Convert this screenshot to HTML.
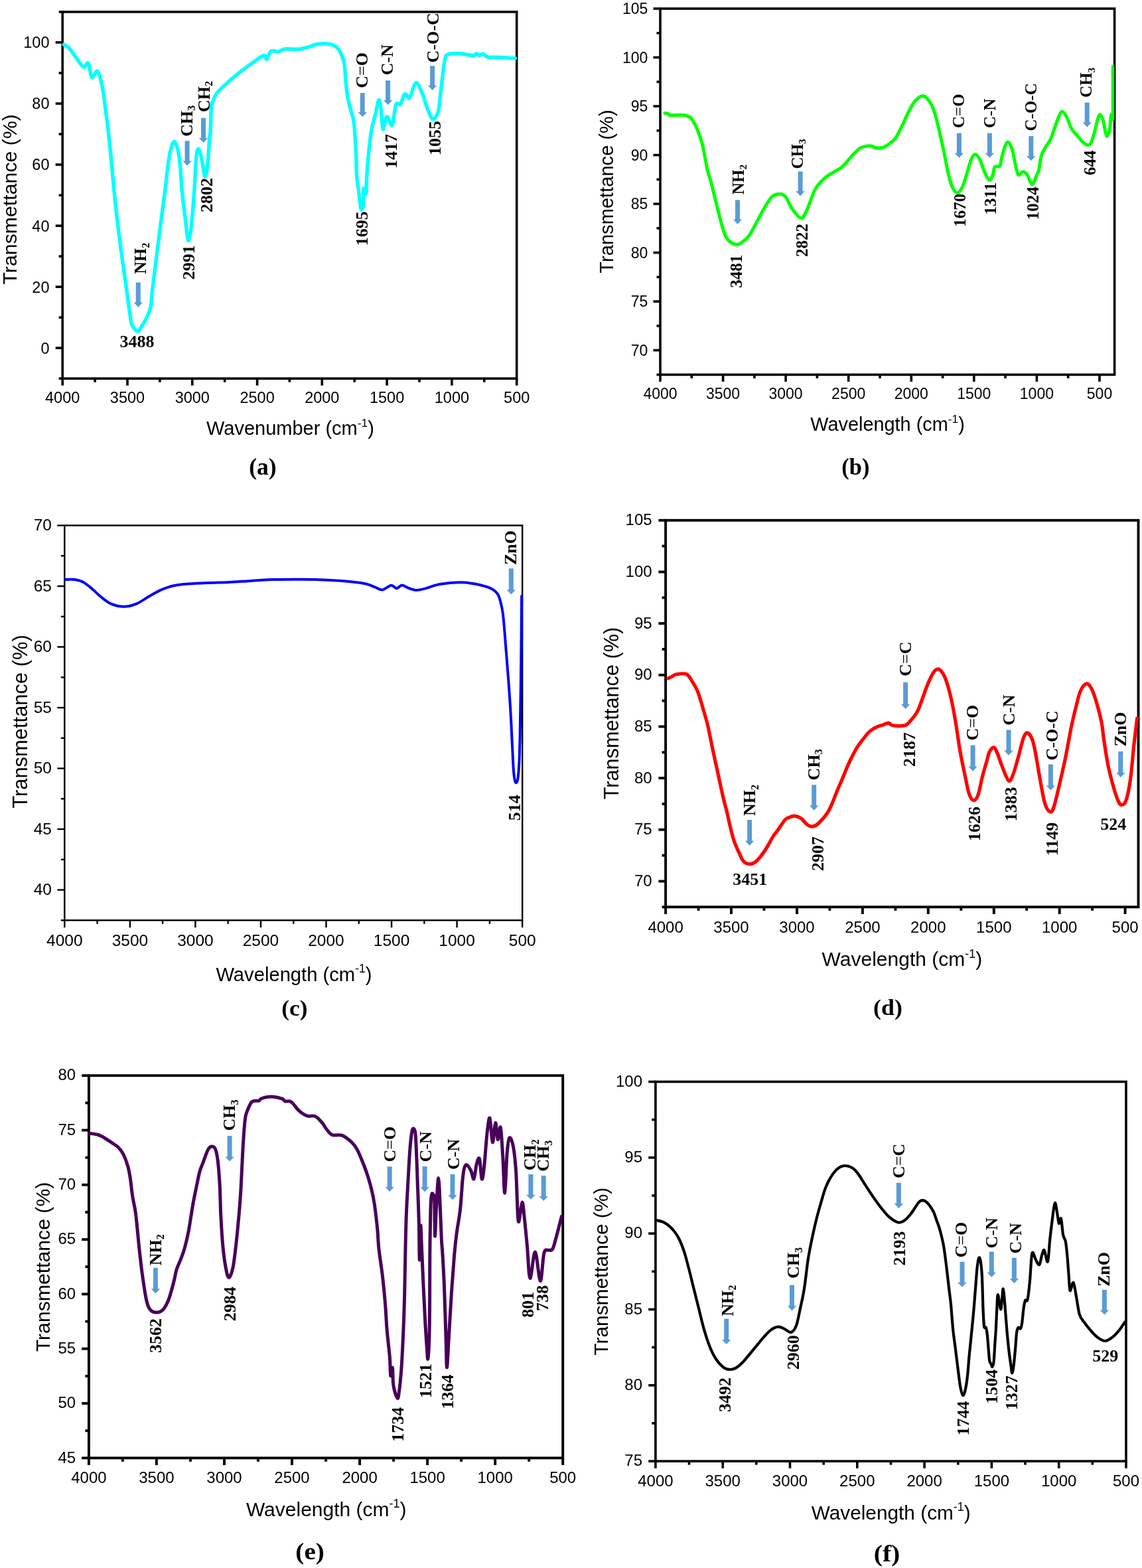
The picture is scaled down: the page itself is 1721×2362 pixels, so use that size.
<!DOCTYPE html>
<html><head><meta charset="utf-8"><title>FTIR spectra</title>
<style>html,body{margin:0;padding:0;background:#fff;}svg{display:block;}</style></head>
<body><svg xmlns="http://www.w3.org/2000/svg" width="1721" height="2362" viewBox="0 0 1721 2362">
<rect width="1721" height="2362" fill="#fff"/>
<rect x="94.2" y="17.9" width="684.5" height="552.3" fill="none" stroke="#000" stroke-width="3.6"/>
<line x1="94.2" y1="570.2" x2="94.2" y2="580.7" stroke="#000" stroke-width="3.6"/>
<line x1="192.0" y1="570.2" x2="192.0" y2="580.7" stroke="#000" stroke-width="3.6"/>
<line x1="289.8" y1="570.2" x2="289.8" y2="580.7" stroke="#000" stroke-width="3.6"/>
<line x1="387.6" y1="570.2" x2="387.6" y2="580.7" stroke="#000" stroke-width="3.6"/>
<line x1="485.3" y1="570.2" x2="485.3" y2="580.7" stroke="#000" stroke-width="3.6"/>
<line x1="583.1" y1="570.2" x2="583.1" y2="580.7" stroke="#000" stroke-width="3.6"/>
<line x1="680.9" y1="570.2" x2="680.9" y2="580.7" stroke="#000" stroke-width="3.6"/>
<line x1="778.7" y1="570.2" x2="778.7" y2="580.7" stroke="#000" stroke-width="3.6"/>
<line x1="143.1" y1="570.2" x2="143.1" y2="575.7" stroke="#000" stroke-width="3.6"/>
<line x1="240.9" y1="570.2" x2="240.9" y2="575.7" stroke="#000" stroke-width="3.6"/>
<line x1="338.7" y1="570.2" x2="338.7" y2="575.7" stroke="#000" stroke-width="3.6"/>
<line x1="436.4" y1="570.2" x2="436.4" y2="575.7" stroke="#000" stroke-width="3.6"/>
<line x1="534.2" y1="570.2" x2="534.2" y2="575.7" stroke="#000" stroke-width="3.6"/>
<line x1="632.0" y1="570.2" x2="632.0" y2="575.7" stroke="#000" stroke-width="3.6"/>
<line x1="729.8" y1="570.2" x2="729.8" y2="575.7" stroke="#000" stroke-width="3.6"/>
<text x="94.2" y="607.0" font-family="'Liberation Sans', Arial, Helvetica, sans-serif" font-size="23.5" text-anchor="middle">4000</text>
<text x="192.0" y="607.0" font-family="'Liberation Sans', Arial, Helvetica, sans-serif" font-size="23.5" text-anchor="middle">3500</text>
<text x="289.8" y="607.0" font-family="'Liberation Sans', Arial, Helvetica, sans-serif" font-size="23.5" text-anchor="middle">3000</text>
<text x="387.6" y="607.0" font-family="'Liberation Sans', Arial, Helvetica, sans-serif" font-size="23.5" text-anchor="middle">2500</text>
<text x="485.3" y="607.0" font-family="'Liberation Sans', Arial, Helvetica, sans-serif" font-size="23.5" text-anchor="middle">2000</text>
<text x="583.1" y="607.0" font-family="'Liberation Sans', Arial, Helvetica, sans-serif" font-size="23.5" text-anchor="middle">1500</text>
<text x="680.9" y="607.0" font-family="'Liberation Sans', Arial, Helvetica, sans-serif" font-size="23.5" text-anchor="middle">1000</text>
<text x="778.7" y="607.0" font-family="'Liberation Sans', Arial, Helvetica, sans-serif" font-size="23.5" text-anchor="middle">500</text>
<line x1="83.7" y1="524.2" x2="94.2" y2="524.2" stroke="#000" stroke-width="3.6"/>
<line x1="83.7" y1="432.1" x2="94.2" y2="432.1" stroke="#000" stroke-width="3.6"/>
<line x1="83.7" y1="340.1" x2="94.2" y2="340.1" stroke="#000" stroke-width="3.6"/>
<line x1="83.7" y1="248.0" x2="94.2" y2="248.0" stroke="#000" stroke-width="3.6"/>
<line x1="83.7" y1="156.0" x2="94.2" y2="156.0" stroke="#000" stroke-width="3.6"/>
<line x1="83.7" y1="63.9" x2="94.2" y2="63.9" stroke="#000" stroke-width="3.6"/>
<line x1="88.7" y1="570.2" x2="94.2" y2="570.2" stroke="#000" stroke-width="3.6"/>
<line x1="88.7" y1="478.2" x2="94.2" y2="478.2" stroke="#000" stroke-width="3.6"/>
<line x1="88.7" y1="386.1" x2="94.2" y2="386.1" stroke="#000" stroke-width="3.6"/>
<line x1="88.7" y1="294.1" x2="94.2" y2="294.1" stroke="#000" stroke-width="3.6"/>
<line x1="88.7" y1="202.0" x2="94.2" y2="202.0" stroke="#000" stroke-width="3.6"/>
<line x1="88.7" y1="110.0" x2="94.2" y2="110.0" stroke="#000" stroke-width="3.6"/>
<line x1="88.7" y1="17.9" x2="94.2" y2="17.9" stroke="#000" stroke-width="3.6"/>
<text x="74.5" y="532.6" font-family="'Liberation Sans', Arial, Helvetica, sans-serif" font-size="23.5" text-anchor="end">0</text>
<text x="74.5" y="440.5" font-family="'Liberation Sans', Arial, Helvetica, sans-serif" font-size="23.5" text-anchor="end">20</text>
<text x="74.5" y="348.5" font-family="'Liberation Sans', Arial, Helvetica, sans-serif" font-size="23.5" text-anchor="end">40</text>
<text x="74.5" y="256.4" font-family="'Liberation Sans', Arial, Helvetica, sans-serif" font-size="23.5" text-anchor="end">60</text>
<text x="74.5" y="164.4" font-family="'Liberation Sans', Arial, Helvetica, sans-serif" font-size="23.5" text-anchor="end">80</text>
<text x="74.5" y="72.3" font-family="'Liberation Sans', Arial, Helvetica, sans-serif" font-size="23.5" text-anchor="end">100</text>
<path d="M96.1 67.2 C97.3 68.0 100.8 69.0 103.6 71.8 C106.4 74.6 109.0 79.1 112.7 83.9 C116.4 88.7 122.2 98.6 125.6 100.5 C129.0 102.4 131.0 92.5 133.1 95.2 C135.2 97.9 136.1 114.4 138.4 116.4 C140.7 118.4 144.2 105.4 146.7 107.3 C149.2 109.2 151.4 117.6 153.6 127.8 C155.8 138.0 157.8 155.5 159.6 168.6 C161.4 181.7 162.7 192.6 164.2 206.5 C165.7 220.4 167.4 238.3 168.7 251.9 C170.0 265.5 170.7 275.2 172.0 288.0 C173.3 300.8 174.6 313.6 176.3 328.4 C178.0 343.2 180.4 361.8 182.4 376.9 C184.4 392.0 186.6 406.1 188.4 419.2 C190.2 432.3 191.9 445.4 193.3 455.5 C194.7 465.6 196.1 474.4 196.9 479.8 C197.8 485.2 196.8 485.0 198.4 488.2 C200.0 491.4 204.1 498.2 206.5 499.0 C208.9 499.8 210.0 496.9 212.6 493.1 C215.2 489.3 219.9 481.4 222.3 476.1 C224.7 470.9 226.0 468.1 227.2 461.6 C228.4 455.2 228.2 449.5 229.6 437.4 C231.0 425.3 233.6 405.1 235.6 389.0 C237.6 372.9 239.9 354.6 241.7 340.5 C243.5 326.4 245.3 313.4 246.5 304.2 C247.7 294.9 247.6 296.2 249.0 285.0 C250.4 273.8 252.8 248.6 255.0 236.7 C257.2 224.8 260.0 213.3 262.5 213.3 C265.0 213.3 268.1 223.9 270.1 236.7 C272.1 249.5 273.0 274.7 274.5 290.0 C276.0 305.3 277.7 316.3 279.2 328.4 C280.7 340.4 282.0 360.3 283.5 362.3 C285.0 364.3 286.8 352.2 288.3 340.5 C289.8 328.8 291.2 309.4 292.5 292.1 C293.8 274.8 294.6 247.9 295.8 236.7 C297.0 225.4 298.1 223.3 299.6 224.6 C301.1 225.9 303.4 237.5 304.9 244.3 C306.4 251.1 307.4 264.2 308.7 265.5 C310.0 266.8 311.4 261.0 312.5 251.9 C313.6 242.8 314.8 219.8 315.5 211.0 C316.2 202.2 316.5 207.2 317.0 198.9 C317.5 190.6 317.8 168.9 318.5 161.1 C319.2 153.3 319.6 155.5 321.0 152.0 C322.4 148.5 323.9 144.2 327.2 139.9 C330.5 135.6 335.8 131.0 340.9 126.3 C345.9 121.6 351.7 116.6 357.5 111.9 C363.3 107.2 369.1 103.0 375.7 98.3 C382.3 93.6 392.5 85.4 396.9 83.9 C401.3 82.4 400.2 90.3 402.1 89.2 C404.0 88.1 405.3 79.0 408.2 77.1 C411.1 75.2 416.2 78.3 419.6 77.8 C423.0 77.3 423.3 74.6 428.6 74.0 C433.9 73.4 445.0 74.6 451.3 74.0 C457.6 73.4 461.9 71.5 466.5 70.3 C471.1 69.0 473.6 67.1 478.6 66.5 C483.6 65.9 491.7 65.5 496.7 66.5 C501.7 67.5 505.5 69.1 508.8 72.5 C512.1 75.9 514.6 82.2 516.4 86.9 C518.2 91.6 518.4 92.2 519.4 100.5 C520.4 108.8 521.2 127.0 522.5 136.9 C523.8 146.8 525.2 152.2 527.0 160.0 C528.8 167.8 531.5 171.7 533.1 183.4 C534.7 195.1 535.8 216.6 536.5 230.0 C537.2 243.4 536.8 254.2 537.5 263.8 C538.2 273.4 539.6 280.4 540.5 287.7 C541.4 295.0 542.2 302.9 542.9 307.5 C543.6 312.1 543.7 315.4 544.5 315.5 C545.3 315.6 547.2 313.6 547.7 308.3 C548.2 303.1 547.1 286.7 547.7 284.0 C548.3 281.3 550.7 294.0 551.5 292.0 C552.3 290.0 552.0 279.2 552.4 271.8 C552.8 264.4 552.9 259.9 554.0 247.9 C555.1 235.9 557.2 212.5 559.2 199.8 C561.2 187.2 563.9 180.2 565.8 172.0 C567.7 163.8 569.4 152.4 570.7 150.8 C572.1 149.2 572.8 154.8 573.9 162.2 C575.0 169.5 576.0 192.2 577.2 194.9 C578.4 197.6 580.1 181.5 581.3 178.5 C582.5 175.5 583.0 175.3 584.6 176.9 C586.2 178.5 589.1 191.6 591.1 188.3 C593.1 185.0 594.8 162.5 596.8 157.3 C598.8 152.1 601.5 159.5 603.4 157.3 C605.3 155.1 606.9 146.8 608.3 144.2 C609.6 141.6 610.0 141.2 611.5 141.8 C613.0 142.4 615.0 149.8 617.2 147.5 C619.4 145.2 622.6 131.5 624.6 127.9 C626.6 124.4 627.3 123.5 629.5 126.2 C631.7 128.9 635.2 137.9 637.7 144.2 C640.2 150.5 641.8 157.9 644.2 163.8 C646.7 169.7 649.7 178.9 652.4 179.4 C655.1 179.9 658.6 174.6 660.6 167.1 C662.6 159.6 663.0 147.2 664.6 134.4 C666.2 121.6 668.6 99.0 670.4 90.3 C672.2 81.6 671.8 83.7 675.3 82.1 C678.8 80.5 685.3 80.2 691.6 80.5 C697.9 80.8 708.5 83.7 712.9 83.7 C717.3 83.7 716.3 80.5 717.8 80.5 C719.3 80.5 720.2 83.6 721.8 83.7 C723.4 83.8 725.3 80.9 727.6 81.3 C729.9 81.7 732.2 85.4 735.7 86.2 C739.2 87.0 742.0 85.9 748.8 86.2 C755.6 86.5 771.9 87.5 776.5 87.8" fill="none" stroke="#00ffff" stroke-width="5.5" stroke-linejoin="round" stroke-linecap="round"/>
<text transform="translate(220.0,412.7) rotate(-90)" font-family="'Liberation Serif', 'Times New Roman', Times, serif" font-weight="bold" font-size="26">NH<tspan font-size="16.1" dy="4.7">2</tspan></text>
<polygon points="204.8,425.4 211.8,425.4 211.8,455.5 215.1,455.5 208.3,462.7 201.6,455.5 204.8,455.5" fill="#5b9bd5"/>
<text x="206.6" y="522.5" font-family="'Liberation Serif', 'Times New Roman', Times, serif" font-weight="bold" font-size="26" text-anchor="middle">3488</text>
<text transform="translate(289.6,205.8) rotate(-90)" font-family="'Liberation Serif', 'Times New Roman', Times, serif" font-weight="bold" font-size="26">CH<tspan font-size="16.1" dy="4.7">3</tspan></text>
<polygon points="278.6,212.2 285.6,212.2 285.6,242.4 288.9,242.4 282.1,249.6 275.4,242.4 278.6,242.4" fill="#5b9bd5"/>
<text transform="translate(292.9,421.2) rotate(-90)" font-family="'Liberation Serif', 'Times New Roman', Times, serif" font-weight="bold" font-size="26">2991</text>
<text transform="translate(315.6,169.0) rotate(-90)" font-family="'Liberation Serif', 'Times New Roman', Times, serif" font-weight="bold" font-size="26">CH<tspan font-size="16.1" dy="4.7">2</tspan></text>
<polygon points="303.0,177.8 310.0,177.8 310.0,207.9 313.2,207.9 306.5,215.1 299.8,207.9 303.0,207.9" fill="#5b9bd5"/>
<text transform="translate(319.5,320.0) rotate(-90)" font-family="'Liberation Serif', 'Times New Roman', Times, serif" font-weight="bold" font-size="26">2802</text>
<text transform="translate(554.3,132.8) rotate(-90)" font-family="'Liberation Serif', 'Times New Roman', Times, serif" font-weight="bold" font-size="26">C<tspan font-weight="normal">=</tspan>O</text>
<polygon points="542.7,140.1 549.7,140.1 549.7,168.9 553.0,168.9 546.2,176.1 539.5,168.9 542.7,168.9" fill="#5b9bd5"/>
<text transform="translate(554.0,370.3) rotate(-90)" font-family="'Liberation Serif', 'Times New Roman', Times, serif" font-weight="bold" font-size="26">1695</text>
<text transform="translate(591.9,113.2) rotate(-90)" font-family="'Liberation Serif', 'Times New Roman', Times, serif" font-weight="bold" font-size="26">C<tspan font-weight="normal">-</tspan>N</text>
<polygon points="581.1,121.3 588.1,121.3 588.1,150.9 591.4,150.9 584.6,158.1 577.9,150.9 581.1,150.9" fill="#5b9bd5"/>
<text transform="translate(597.6,253.7) rotate(-90)" font-family="'Liberation Serif', 'Times New Roman', Times, serif" font-weight="bold" font-size="26">1417</text>
<text transform="translate(660.6,94.4) rotate(-90)" font-family="'Liberation Serif', 'Times New Roman', Times, serif" font-weight="bold" font-size="26">C<tspan font-weight="normal">-</tspan>O<tspan font-weight="normal">-</tspan>C</text>
<polygon points="648.1,99.3 655.1,99.3 655.1,128.8 658.4,128.8 651.6,136.0 644.9,128.8 648.1,128.8" fill="#5b9bd5"/>
<text transform="translate(663.8,234.1) rotate(-90)" font-family="'Liberation Serif', 'Times New Roman', Times, serif" font-weight="bold" font-size="26">1055</text>
<text transform="translate(25.3,300.3) rotate(-90)" font-family="'Liberation Sans', Arial, Helvetica, sans-serif" font-size="30.3" text-anchor="middle">Transmettance (%)</text>
<text x="311.0" y="654.9" font-family="'Liberation Sans', Arial, Helvetica, sans-serif" font-size="29">Wavenumber (cm<tspan font-size="17.4" dy="-12.2">-1</tspan><tspan dy="12.2">)</tspan></text>
<text transform="translate(395.9,715.2) scale(0.987,1)" font-family="'Liberation Serif', 'Times New Roman', Times, serif" font-weight="bold" font-size="36.1" text-anchor="middle">(a)</text>
<rect x="995.0" y="13.0" width="684.6" height="551.4" fill="none" stroke="#000" stroke-width="3.6"/>
<line x1="995.0" y1="564.4" x2="995.0" y2="574.9" stroke="#000" stroke-width="3.6"/>
<line x1="1089.6" y1="564.4" x2="1089.6" y2="574.9" stroke="#000" stroke-width="3.6"/>
<line x1="1184.1" y1="564.4" x2="1184.1" y2="574.9" stroke="#000" stroke-width="3.6"/>
<line x1="1278.7" y1="564.4" x2="1278.7" y2="574.9" stroke="#000" stroke-width="3.6"/>
<line x1="1373.3" y1="564.4" x2="1373.3" y2="574.9" stroke="#000" stroke-width="3.6"/>
<line x1="1467.8" y1="564.4" x2="1467.8" y2="574.9" stroke="#000" stroke-width="3.6"/>
<line x1="1562.4" y1="564.4" x2="1562.4" y2="574.9" stroke="#000" stroke-width="3.6"/>
<line x1="1657.0" y1="564.4" x2="1657.0" y2="574.9" stroke="#000" stroke-width="3.6"/>
<line x1="1042.3" y1="564.4" x2="1042.3" y2="569.9" stroke="#000" stroke-width="3.6"/>
<line x1="1136.9" y1="564.4" x2="1136.9" y2="569.9" stroke="#000" stroke-width="3.6"/>
<line x1="1231.4" y1="564.4" x2="1231.4" y2="569.9" stroke="#000" stroke-width="3.6"/>
<line x1="1326.0" y1="564.4" x2="1326.0" y2="569.9" stroke="#000" stroke-width="3.6"/>
<line x1="1420.6" y1="564.4" x2="1420.6" y2="569.9" stroke="#000" stroke-width="3.6"/>
<line x1="1515.1" y1="564.4" x2="1515.1" y2="569.9" stroke="#000" stroke-width="3.6"/>
<line x1="1609.7" y1="564.4" x2="1609.7" y2="569.9" stroke="#000" stroke-width="3.6"/>
<text x="995.0" y="600.7" font-family="'Liberation Sans', Arial, Helvetica, sans-serif" font-size="23" text-anchor="middle">4000</text>
<text x="1089.6" y="600.7" font-family="'Liberation Sans', Arial, Helvetica, sans-serif" font-size="23" text-anchor="middle">3500</text>
<text x="1184.1" y="600.7" font-family="'Liberation Sans', Arial, Helvetica, sans-serif" font-size="23" text-anchor="middle">3000</text>
<text x="1278.7" y="600.7" font-family="'Liberation Sans', Arial, Helvetica, sans-serif" font-size="23" text-anchor="middle">2500</text>
<text x="1373.3" y="600.7" font-family="'Liberation Sans', Arial, Helvetica, sans-serif" font-size="23" text-anchor="middle">2000</text>
<text x="1467.8" y="600.7" font-family="'Liberation Sans', Arial, Helvetica, sans-serif" font-size="23" text-anchor="middle">1500</text>
<text x="1562.4" y="600.7" font-family="'Liberation Sans', Arial, Helvetica, sans-serif" font-size="23" text-anchor="middle">1000</text>
<text x="1657.0" y="600.7" font-family="'Liberation Sans', Arial, Helvetica, sans-serif" font-size="23" text-anchor="middle">500</text>
<line x1="984.5" y1="527.6" x2="995.0" y2="527.6" stroke="#000" stroke-width="3.6"/>
<line x1="984.5" y1="454.1" x2="995.0" y2="454.1" stroke="#000" stroke-width="3.6"/>
<line x1="984.5" y1="380.6" x2="995.0" y2="380.6" stroke="#000" stroke-width="3.6"/>
<line x1="984.5" y1="307.1" x2="995.0" y2="307.1" stroke="#000" stroke-width="3.6"/>
<line x1="984.5" y1="233.6" x2="995.0" y2="233.6" stroke="#000" stroke-width="3.6"/>
<line x1="984.5" y1="160.0" x2="995.0" y2="160.0" stroke="#000" stroke-width="3.6"/>
<line x1="984.5" y1="86.5" x2="995.0" y2="86.5" stroke="#000" stroke-width="3.6"/>
<line x1="984.5" y1="13.0" x2="995.0" y2="13.0" stroke="#000" stroke-width="3.6"/>
<line x1="989.5" y1="564.4" x2="995.0" y2="564.4" stroke="#000" stroke-width="3.6"/>
<line x1="989.5" y1="490.9" x2="995.0" y2="490.9" stroke="#000" stroke-width="3.6"/>
<line x1="989.5" y1="417.4" x2="995.0" y2="417.4" stroke="#000" stroke-width="3.6"/>
<line x1="989.5" y1="343.8" x2="995.0" y2="343.8" stroke="#000" stroke-width="3.6"/>
<line x1="989.5" y1="270.3" x2="995.0" y2="270.3" stroke="#000" stroke-width="3.6"/>
<line x1="989.5" y1="196.8" x2="995.0" y2="196.8" stroke="#000" stroke-width="3.6"/>
<line x1="989.5" y1="123.3" x2="995.0" y2="123.3" stroke="#000" stroke-width="3.6"/>
<line x1="989.5" y1="49.8" x2="995.0" y2="49.8" stroke="#000" stroke-width="3.6"/>
<text x="976.3" y="535.9" font-family="'Liberation Sans', Arial, Helvetica, sans-serif" font-size="23" text-anchor="end">70</text>
<text x="976.3" y="462.4" font-family="'Liberation Sans', Arial, Helvetica, sans-serif" font-size="23" text-anchor="end">75</text>
<text x="976.3" y="388.8" font-family="'Liberation Sans', Arial, Helvetica, sans-serif" font-size="23" text-anchor="end">80</text>
<text x="976.3" y="315.3" font-family="'Liberation Sans', Arial, Helvetica, sans-serif" font-size="23" text-anchor="end">85</text>
<text x="976.3" y="241.8" font-family="'Liberation Sans', Arial, Helvetica, sans-serif" font-size="23" text-anchor="end">90</text>
<text x="976.3" y="168.3" font-family="'Liberation Sans', Arial, Helvetica, sans-serif" font-size="23" text-anchor="end">95</text>
<text x="976.3" y="94.8" font-family="'Liberation Sans', Arial, Helvetica, sans-serif" font-size="23" text-anchor="end">100</text>
<text x="976.3" y="21.2" font-family="'Liberation Sans', Arial, Helvetica, sans-serif" font-size="23" text-anchor="end">105</text>
<path d="M1001.8 170.4 C1002.7 170.5 1005.7 170.7 1007.1 171.2 C1008.5 171.7 1006.1 173.1 1010.1 173.5 C1014.1 173.9 1026.0 172.6 1031.3 173.5 C1036.6 174.4 1038.6 175.2 1041.9 178.8 C1045.2 182.5 1048.2 188.9 1051.0 195.4 C1053.8 201.9 1056.1 208.0 1058.6 218.1 C1061.1 228.2 1064.1 247.1 1066.1 255.9 C1068.1 264.7 1068.7 263.5 1070.7 271.1 C1072.7 278.7 1075.7 291.2 1078.2 301.3 C1080.7 311.4 1083.3 322.5 1085.8 331.6 C1088.3 340.7 1090.7 350.2 1093.4 355.8 C1096.1 361.4 1099.2 363.4 1102.0 365.5 C1104.8 367.6 1108.0 368.2 1110.3 368.4 C1112.6 368.6 1113.0 368.6 1116.0 366.5 C1119.0 364.4 1124.2 361.1 1128.2 355.8 C1132.2 350.5 1136.5 341.4 1140.3 334.6 C1144.1 327.8 1147.1 321.3 1150.9 315.0 C1154.7 308.7 1159.0 300.6 1163.0 296.8 C1167.0 293.0 1171.6 292.3 1175.1 292.3 C1178.6 292.3 1181.2 293.3 1184.2 296.8 C1187.2 300.3 1189.4 308.1 1193.2 313.4 C1197.0 318.7 1203.1 328.1 1206.9 328.6 C1210.7 329.1 1212.4 323.6 1215.9 316.5 C1219.4 309.4 1224.0 293.8 1228.0 286.2 C1232.0 278.6 1236.0 274.9 1240.0 270.9 C1244.0 266.8 1247.6 264.9 1252.1 261.9 C1256.6 258.9 1263.2 255.8 1267.2 252.8 C1271.2 249.8 1273.0 247.2 1276.3 243.7 C1279.6 240.2 1283.6 235.0 1286.9 231.6 C1290.2 228.2 1293.0 225.2 1296.0 223.3 C1299.0 221.4 1302.1 220.7 1305.1 220.2 C1308.1 219.7 1311.9 219.8 1314.2 220.2 C1316.5 220.6 1316.2 222.1 1318.7 222.5 C1321.2 222.9 1326.0 223.2 1329.3 222.5 C1332.6 221.8 1335.1 220.3 1338.4 218.0 C1341.7 215.7 1346.2 212.2 1349.0 208.9 C1351.8 205.6 1353.0 202.1 1355.0 198.3 C1357.0 194.5 1358.8 191.0 1361.1 186.2 C1363.4 181.4 1366.1 174.6 1368.6 169.6 C1371.1 164.6 1373.7 159.6 1376.2 155.9 C1378.7 152.2 1381.4 149.5 1383.8 147.6 C1386.2 145.7 1388.3 144.5 1390.6 144.6 C1392.9 144.7 1395.0 145.8 1397.4 148.4 C1399.8 151.1 1402.7 155.5 1405.0 160.5 C1407.3 165.5 1409.0 171.3 1411.0 178.6 C1413.0 185.9 1415.1 195.6 1417.1 204.4 C1419.1 213.2 1421.1 222.0 1423.1 231.6 C1425.1 241.2 1427.2 253.5 1429.2 261.9 C1431.2 270.3 1432.9 277.2 1435.2 282.0 C1437.5 286.8 1440.6 290.8 1443.2 290.5 C1445.8 290.2 1448.6 285.3 1451.1 280.0 C1453.5 274.7 1455.8 265.6 1457.9 258.8 C1460.1 252.0 1462.0 243.6 1464.0 239.2 C1466.0 234.8 1467.9 232.2 1470.0 232.4 C1472.1 232.7 1474.5 236.3 1476.8 240.7 C1479.1 245.1 1481.2 253.7 1483.6 258.8 C1486.0 263.9 1489.1 271.0 1491.3 271.5 C1493.5 272.0 1495.4 265.3 1496.7 261.9 C1498.0 258.5 1497.3 253.3 1499.0 251.3 C1500.7 249.3 1504.7 252.6 1506.6 249.8 C1508.5 247.0 1508.9 239.7 1510.3 234.6 C1511.7 229.5 1513.4 222.9 1514.9 219.5 C1516.4 216.1 1517.6 213.2 1519.4 214.2 C1521.2 215.2 1523.7 220.1 1525.5 225.5 C1527.3 230.9 1528.5 240.4 1530.0 246.7 C1531.5 253.0 1532.7 261.4 1534.6 263.4 C1536.5 265.4 1539.1 258.8 1541.4 258.8 C1543.7 258.8 1546.3 260.9 1548.2 263.4 C1550.1 265.9 1551.3 271.7 1552.7 274.0 C1554.1 276.3 1555.0 278.7 1556.5 277.2 C1558.0 275.7 1560.3 268.5 1561.8 264.9 C1563.3 261.3 1564.3 260.9 1565.6 255.8 C1566.9 250.8 1567.5 240.7 1569.4 234.6 C1571.3 228.5 1574.6 223.5 1576.9 219.5 C1579.2 215.5 1581.0 214.7 1583.0 210.4 C1585.0 206.1 1587.0 199.4 1589.0 193.8 C1591.0 188.2 1593.2 181.4 1595.1 177.1 C1597.0 172.8 1598.4 168.2 1600.4 168.0 C1602.4 167.8 1604.8 171.3 1607.2 175.6 C1609.6 179.9 1612.3 189.3 1614.8 193.8 C1617.3 198.3 1619.8 199.8 1622.3 202.8 C1624.8 205.8 1627.4 209.4 1629.9 211.9 C1632.4 214.4 1635.2 217.2 1637.5 218.0 C1639.8 218.8 1641.6 219.3 1643.5 216.5 C1645.4 213.7 1647.0 207.4 1648.8 201.3 C1650.6 195.2 1652.6 184.9 1654.1 180.1 C1655.6 175.3 1656.5 172.3 1657.9 172.6 C1659.3 172.9 1661.0 177.2 1662.4 181.7 C1663.8 186.2 1665.2 195.9 1666.2 199.8 C1667.2 203.7 1667.5 205.8 1668.5 205.1 C1669.5 204.3 1671.3 200.7 1672.3 195.3 C1673.3 190.0 1673.8 175.9 1674.5 173.0 C1675.2 170.1 1676.2 177.2 1676.5 178.0" fill="none" stroke="#00ff00" stroke-width="5" stroke-linejoin="round" stroke-linecap="round"/>
<path d="M1677 180 L1677 100" stroke="#00ff00" stroke-width="4.5" stroke-linecap="round"/>
<text transform="translate(1120.6,293.0) rotate(-90)" font-family="'Liberation Serif', 'Times New Roman', Times, serif" font-weight="bold" font-size="25">NH<tspan font-size="15.5" dy="4.5">2</tspan></text>
<polygon points="1108.0,301.3 1115.0,301.3 1115.0,330.5 1118.2,330.5 1111.5,337.7 1104.8,330.5 1108.0,330.5" fill="#5b9bd5"/>
<text transform="translate(1117.5,433.8) rotate(-90)" font-family="'Liberation Serif', 'Times New Roman', Times, serif" font-weight="bold" font-size="25">3481</text>
<text transform="translate(1209.9,254.4) rotate(-90)" font-family="'Liberation Serif', 'Times New Roman', Times, serif" font-weight="bold" font-size="25">CH<tspan font-size="15.5" dy="4.5">3</tspan></text>
<polygon points="1202.6,258.2 1209.6,258.2 1209.6,288.1 1212.8,288.1 1206.1,295.3 1199.3,288.1 1202.6,288.1" fill="#5b9bd5"/>
<text transform="translate(1217.4,387.1) rotate(-90)" font-family="'Liberation Serif', 'Times New Roman', Times, serif" font-weight="bold" font-size="25">2822</text>
<text transform="translate(1453.4,193.0) rotate(-90)" font-family="'Liberation Serif', 'Times New Roman', Times, serif" font-weight="bold" font-size="25">C<tspan font-weight="normal">=</tspan>O</text>
<polygon points="1441.9,200.6 1448.9,200.6 1448.9,230.5 1452.2,230.5 1445.4,237.7 1438.7,230.5 1441.9,230.5" fill="#5b9bd5"/>
<text transform="translate(1454.9,341.8) rotate(-90)" font-family="'Liberation Serif', 'Times New Roman', Times, serif" font-weight="bold" font-size="25">1670</text>
<text transform="translate(1499.8,193.0) rotate(-90)" font-family="'Liberation Serif', 'Times New Roman', Times, serif" font-weight="bold" font-size="25">C<tspan font-weight="normal">-</tspan>N</text>
<polygon points="1487.9,200.6 1494.9,200.6 1494.9,230.5 1498.2,230.5 1491.4,237.7 1484.7,230.5 1487.9,230.5" fill="#5b9bd5"/>
<text transform="translate(1500.9,323.4) rotate(-90)" font-family="'Liberation Serif', 'Times New Roman', Times, serif" font-weight="bold" font-size="25">1311</text>
<text transform="translate(1561.8,197.5) rotate(-90)" font-family="'Liberation Serif', 'Times New Roman', Times, serif" font-weight="bold" font-size="25">C<tspan font-weight="normal">-</tspan>O<tspan font-weight="normal">-</tspan>C</text>
<polygon points="1550.3,205.1 1557.3,205.1 1557.3,235.0 1560.5,235.0 1553.8,242.2 1547.0,235.0 1550.3,235.0" fill="#5b9bd5"/>
<text transform="translate(1565.3,331.2) rotate(-90)" font-family="'Liberation Serif', 'Times New Roman', Times, serif" font-weight="bold" font-size="25">1024</text>
<text transform="translate(1645.0,146.9) rotate(-90)" font-family="'Liberation Serif', 'Times New Roman', Times, serif" font-weight="bold" font-size="25">CH<tspan font-size="15.5" dy="4.5">3</tspan></text>
<polygon points="1634.7,154.4 1641.7,154.4 1641.7,184.3 1645.0,184.3 1638.2,191.5 1631.5,184.3 1634.7,184.3" fill="#5b9bd5"/>
<text transform="translate(1651.1,264.1) rotate(-90)" font-family="'Liberation Serif', 'Times New Roman', Times, serif" font-weight="bold" font-size="25">644</text>
<text transform="translate(924.3,288.5) rotate(-90)" font-family="'Liberation Sans', Arial, Helvetica, sans-serif" font-size="29.1" text-anchor="middle">Transmettance (%)</text>
<text x="1221.2" y="649.2" font-family="'Liberation Sans', Arial, Helvetica, sans-serif" font-size="28.9">Wavelength (cm<tspan font-size="17.3" dy="-12.1">-1</tspan><tspan dy="12.1">)</tspan></text>
<text transform="translate(1289.4,714.7) scale(0.970,1)" font-family="'Liberation Serif', 'Times New Roman', Times, serif" font-weight="bold" font-size="35.5" text-anchor="middle">(b)</text>
<rect x="97.3" y="791.5" width="689.9" height="594.8" fill="none" stroke="#000" stroke-width="2.4"/>
<line x1="97.3" y1="1386.3" x2="97.3" y2="1397.3" stroke="#000" stroke-width="2.4"/>
<line x1="195.9" y1="1386.3" x2="195.9" y2="1397.3" stroke="#000" stroke-width="2.4"/>
<line x1="294.4" y1="1386.3" x2="294.4" y2="1397.3" stroke="#000" stroke-width="2.4"/>
<line x1="393.0" y1="1386.3" x2="393.0" y2="1397.3" stroke="#000" stroke-width="2.4"/>
<line x1="491.5" y1="1386.3" x2="491.5" y2="1397.3" stroke="#000" stroke-width="2.4"/>
<line x1="590.1" y1="1386.3" x2="590.1" y2="1397.3" stroke="#000" stroke-width="2.4"/>
<line x1="688.6" y1="1386.3" x2="688.6" y2="1397.3" stroke="#000" stroke-width="2.4"/>
<line x1="787.2" y1="1386.3" x2="787.2" y2="1397.3" stroke="#000" stroke-width="2.4"/>
<line x1="146.6" y1="1386.3" x2="146.6" y2="1391.8" stroke="#000" stroke-width="2.4"/>
<line x1="245.1" y1="1386.3" x2="245.1" y2="1391.8" stroke="#000" stroke-width="2.4"/>
<line x1="343.7" y1="1386.3" x2="343.7" y2="1391.8" stroke="#000" stroke-width="2.4"/>
<line x1="442.3" y1="1386.3" x2="442.3" y2="1391.8" stroke="#000" stroke-width="2.4"/>
<line x1="540.8" y1="1386.3" x2="540.8" y2="1391.8" stroke="#000" stroke-width="2.4"/>
<line x1="639.4" y1="1386.3" x2="639.4" y2="1391.8" stroke="#000" stroke-width="2.4"/>
<line x1="737.9" y1="1386.3" x2="737.9" y2="1391.8" stroke="#000" stroke-width="2.4"/>
<text x="97.3" y="1425.3" font-family="'Liberation Sans', Arial, Helvetica, sans-serif" font-size="24.5" text-anchor="middle">4000</text>
<text x="195.9" y="1425.3" font-family="'Liberation Sans', Arial, Helvetica, sans-serif" font-size="24.5" text-anchor="middle">3500</text>
<text x="294.4" y="1425.3" font-family="'Liberation Sans', Arial, Helvetica, sans-serif" font-size="24.5" text-anchor="middle">3000</text>
<text x="393.0" y="1425.3" font-family="'Liberation Sans', Arial, Helvetica, sans-serif" font-size="24.5" text-anchor="middle">2500</text>
<text x="491.5" y="1425.3" font-family="'Liberation Sans', Arial, Helvetica, sans-serif" font-size="24.5" text-anchor="middle">2000</text>
<text x="590.1" y="1425.3" font-family="'Liberation Sans', Arial, Helvetica, sans-serif" font-size="24.5" text-anchor="middle">1500</text>
<text x="688.6" y="1425.3" font-family="'Liberation Sans', Arial, Helvetica, sans-serif" font-size="24.5" text-anchor="middle">1000</text>
<text x="787.2" y="1425.3" font-family="'Liberation Sans', Arial, Helvetica, sans-serif" font-size="24.5" text-anchor="middle">500</text>
<line x1="86.3" y1="1340.5" x2="97.3" y2="1340.5" stroke="#000" stroke-width="2.4"/>
<line x1="86.3" y1="1249.0" x2="97.3" y2="1249.0" stroke="#000" stroke-width="2.4"/>
<line x1="86.3" y1="1157.5" x2="97.3" y2="1157.5" stroke="#000" stroke-width="2.4"/>
<line x1="86.3" y1="1066.0" x2="97.3" y2="1066.0" stroke="#000" stroke-width="2.4"/>
<line x1="86.3" y1="974.5" x2="97.3" y2="974.5" stroke="#000" stroke-width="2.4"/>
<line x1="86.3" y1="883.0" x2="97.3" y2="883.0" stroke="#000" stroke-width="2.4"/>
<line x1="86.3" y1="791.5" x2="97.3" y2="791.5" stroke="#000" stroke-width="2.4"/>
<line x1="91.8" y1="1386.3" x2="97.3" y2="1386.3" stroke="#000" stroke-width="2.4"/>
<line x1="91.8" y1="1294.8" x2="97.3" y2="1294.8" stroke="#000" stroke-width="2.4"/>
<line x1="91.8" y1="1203.3" x2="97.3" y2="1203.3" stroke="#000" stroke-width="2.4"/>
<line x1="91.8" y1="1111.8" x2="97.3" y2="1111.8" stroke="#000" stroke-width="2.4"/>
<line x1="91.8" y1="1020.3" x2="97.3" y2="1020.3" stroke="#000" stroke-width="2.4"/>
<line x1="91.8" y1="928.8" x2="97.3" y2="928.8" stroke="#000" stroke-width="2.4"/>
<line x1="91.8" y1="837.3" x2="97.3" y2="837.3" stroke="#000" stroke-width="2.4"/>
<text x="78.0" y="1348.1" font-family="'Liberation Sans', Arial, Helvetica, sans-serif" font-size="24.5" text-anchor="end">40</text>
<text x="78.0" y="1256.6" font-family="'Liberation Sans', Arial, Helvetica, sans-serif" font-size="24.5" text-anchor="end">45</text>
<text x="78.0" y="1165.1" font-family="'Liberation Sans', Arial, Helvetica, sans-serif" font-size="24.5" text-anchor="end">50</text>
<text x="78.0" y="1073.6" font-family="'Liberation Sans', Arial, Helvetica, sans-serif" font-size="24.5" text-anchor="end">55</text>
<text x="78.0" y="982.1" font-family="'Liberation Sans', Arial, Helvetica, sans-serif" font-size="24.5" text-anchor="end">60</text>
<text x="78.0" y="890.6" font-family="'Liberation Sans', Arial, Helvetica, sans-serif" font-size="24.5" text-anchor="end">65</text>
<text x="78.0" y="799.1" font-family="'Liberation Sans', Arial, Helvetica, sans-serif" font-size="24.5" text-anchor="end">70</text>
<path d="M98.3 873.1 C100.7 873.1 107.9 872.5 112.4 873.1 C116.9 873.8 121.1 874.7 125.5 877.0 C129.9 879.3 134.2 883.3 138.6 886.9 C143.0 890.5 147.0 895.1 151.7 898.8 C156.4 902.5 161.1 906.8 166.9 909.3 C172.7 911.8 180.0 913.7 186.5 913.7 C193.0 913.7 199.6 912.0 206.1 909.3 C212.6 906.6 219.5 901.2 225.7 897.7 C231.9 894.2 237.4 890.9 243.2 888.4 C249.0 885.9 254.4 884.0 260.6 882.5 C266.8 881.0 271.5 880.4 280.2 879.7 C288.9 879.0 302.0 878.6 312.9 878.1 C323.8 877.6 334.7 877.5 345.6 877.0 C356.5 876.5 367.4 875.5 378.3 874.9 C389.2 874.2 398.2 873.5 411.0 873.1 C423.8 872.7 441.2 872.6 455.0 872.7 C468.8 872.8 481.7 873.2 493.6 873.8 C505.5 874.3 516.5 875.0 526.3 876.0 C536.1 877.0 545.9 878.2 552.4 879.7 C558.9 881.2 561.5 883.2 565.5 884.7 C569.5 886.2 572.4 888.9 576.4 888.4 C580.4 887.9 586.0 882.2 589.5 881.8 C593.0 881.4 595.0 886.3 597.7 886.2 C600.4 886.1 602.8 881.5 605.8 881.4 C608.8 881.3 612.1 884.5 615.6 885.8 C619.1 887.1 622.5 888.8 626.5 889.0 C630.5 889.2 634.5 888.2 639.6 886.9 C644.7 885.6 650.5 882.9 657.0 881.4 C663.5 879.9 671.5 878.8 678.8 878.1 C686.1 877.5 693.6 877.1 700.6 877.5 C707.6 877.9 715.4 879.5 720.5 880.5 C725.6 881.5 727.8 882.2 731.0 883.2 C734.2 884.2 737.3 885.2 739.9 886.5 C742.5 887.8 744.7 889.2 746.5 890.9 C748.3 892.5 749.6 893.8 750.9 896.4 C752.2 899.0 753.1 902.1 754.2 906.3 C755.3 910.5 756.6 915.7 757.5 921.8 C758.4 927.9 759.0 934.7 759.7 942.8 C760.4 950.9 761.2 961.1 761.9 970.3 C762.6 979.5 763.4 988.7 764.1 997.9 C764.8 1007.1 765.5 1015.4 766.3 1025.5 C767.0 1035.6 767.9 1047.6 768.6 1058.6 C769.3 1069.6 769.9 1079.8 770.5 1091.7 C771.1 1103.6 771.7 1118.6 772.3 1130.0 C772.9 1141.4 773.3 1152.6 773.9 1160.0 C774.5 1167.4 775.0 1171.3 775.6 1174.5 C776.2 1177.7 777.0 1179.3 777.8 1179.3 C778.5 1179.3 779.5 1177.7 780.1 1174.5 C780.8 1171.3 781.2 1165.8 781.7 1160.0 C782.2 1154.2 782.5 1148.3 782.8 1140.0 C783.1 1131.7 783.3 1123.3 783.6 1110.0 C783.9 1096.7 784.1 1078.3 784.4 1060.0 C784.7 1041.7 785.0 1018.6 785.2 1000.0 C785.4 981.4 785.6 965.3 785.7 948.3 C785.9 931.3 786.0 906.4 786.1 898.0" fill="none" stroke="#0000ff" stroke-width="4.0" stroke-linejoin="round" stroke-linecap="round"/>
<text transform="translate(778.3,851.1) rotate(-90)" font-family="'Liberation Serif', 'Times New Roman', Times, serif" font-weight="bold" font-size="26">ZnO</text>
<polygon points="766.8,856.3 773.8,856.3 773.8,888.4 777.0,888.4 770.3,895.6 763.5,888.4 766.8,888.4" fill="#5b9bd5"/>
<text transform="translate(784.4,1236.3) rotate(-90)" font-family="'Liberation Serif', 'Times New Roman', Times, serif" font-weight="bold" font-size="26">514</text>
<text transform="translate(41.0,1087.0) rotate(-90)" font-family="'Liberation Sans', Arial, Helvetica, sans-serif" font-size="30.9" text-anchor="middle">Transmettance (%)</text>
<text x="325.4" y="1477.7" font-family="'Liberation Sans', Arial, Helvetica, sans-serif" font-size="29.2">Wavelength (cm<tspan font-size="17.5" dy="-12.3">-1</tspan><tspan dy="12.3">)</tspan></text>
<text transform="translate(443.9,1529.6) scale(1.040,1)" font-family="'Liberation Serif', 'Times New Roman', Times, serif" font-weight="bold" font-size="34.0" text-anchor="middle">(c)</text>
<rect x="1003.1" y="783.8" width="712.4" height="582.5" fill="none" stroke="#000" stroke-width="3.9"/>
<line x1="1003.1" y1="1366.3" x2="1003.1" y2="1377.0" stroke="#000" stroke-width="3.9"/>
<line x1="1102.0" y1="1366.3" x2="1102.0" y2="1377.0" stroke="#000" stroke-width="3.9"/>
<line x1="1201.0" y1="1366.3" x2="1201.0" y2="1377.0" stroke="#000" stroke-width="3.9"/>
<line x1="1299.9" y1="1366.3" x2="1299.9" y2="1377.0" stroke="#000" stroke-width="3.9"/>
<line x1="1398.8" y1="1366.3" x2="1398.8" y2="1377.0" stroke="#000" stroke-width="3.9"/>
<line x1="1497.8" y1="1366.3" x2="1497.8" y2="1377.0" stroke="#000" stroke-width="3.9"/>
<line x1="1596.7" y1="1366.3" x2="1596.7" y2="1377.0" stroke="#000" stroke-width="3.9"/>
<line x1="1695.6" y1="1366.3" x2="1695.6" y2="1377.0" stroke="#000" stroke-width="3.9"/>
<line x1="1052.6" y1="1366.3" x2="1052.6" y2="1371.8" stroke="#000" stroke-width="3.9"/>
<line x1="1151.5" y1="1366.3" x2="1151.5" y2="1371.8" stroke="#000" stroke-width="3.9"/>
<line x1="1250.4" y1="1366.3" x2="1250.4" y2="1371.8" stroke="#000" stroke-width="3.9"/>
<line x1="1349.4" y1="1366.3" x2="1349.4" y2="1371.8" stroke="#000" stroke-width="3.9"/>
<line x1="1448.3" y1="1366.3" x2="1448.3" y2="1371.8" stroke="#000" stroke-width="3.9"/>
<line x1="1547.2" y1="1366.3" x2="1547.2" y2="1371.8" stroke="#000" stroke-width="3.9"/>
<line x1="1646.1" y1="1366.3" x2="1646.1" y2="1371.8" stroke="#000" stroke-width="3.9"/>
<text x="1003.1" y="1404.9" font-family="'Liberation Sans', Arial, Helvetica, sans-serif" font-size="24" text-anchor="middle">4000</text>
<text x="1102.0" y="1404.9" font-family="'Liberation Sans', Arial, Helvetica, sans-serif" font-size="24" text-anchor="middle">3500</text>
<text x="1201.0" y="1404.9" font-family="'Liberation Sans', Arial, Helvetica, sans-serif" font-size="24" text-anchor="middle">3000</text>
<text x="1299.9" y="1404.9" font-family="'Liberation Sans', Arial, Helvetica, sans-serif" font-size="24" text-anchor="middle">2500</text>
<text x="1398.8" y="1404.9" font-family="'Liberation Sans', Arial, Helvetica, sans-serif" font-size="24" text-anchor="middle">2000</text>
<text x="1497.8" y="1404.9" font-family="'Liberation Sans', Arial, Helvetica, sans-serif" font-size="24" text-anchor="middle">1500</text>
<text x="1596.7" y="1404.9" font-family="'Liberation Sans', Arial, Helvetica, sans-serif" font-size="24" text-anchor="middle">1000</text>
<text x="1695.6" y="1404.9" font-family="'Liberation Sans', Arial, Helvetica, sans-serif" font-size="24" text-anchor="middle">500</text>
<line x1="992.4" y1="1327.5" x2="1003.1" y2="1327.5" stroke="#000" stroke-width="3.9"/>
<line x1="992.4" y1="1249.8" x2="1003.1" y2="1249.8" stroke="#000" stroke-width="3.9"/>
<line x1="992.4" y1="1172.1" x2="1003.1" y2="1172.1" stroke="#000" stroke-width="3.9"/>
<line x1="992.4" y1="1094.5" x2="1003.1" y2="1094.5" stroke="#000" stroke-width="3.9"/>
<line x1="992.4" y1="1016.8" x2="1003.1" y2="1016.8" stroke="#000" stroke-width="3.9"/>
<line x1="992.4" y1="939.1" x2="1003.1" y2="939.1" stroke="#000" stroke-width="3.9"/>
<line x1="992.4" y1="861.5" x2="1003.1" y2="861.5" stroke="#000" stroke-width="3.9"/>
<line x1="992.4" y1="783.8" x2="1003.1" y2="783.8" stroke="#000" stroke-width="3.9"/>
<line x1="997.6" y1="1366.3" x2="1003.1" y2="1366.3" stroke="#000" stroke-width="3.9"/>
<line x1="997.6" y1="1288.6" x2="1003.1" y2="1288.6" stroke="#000" stroke-width="3.9"/>
<line x1="997.6" y1="1211.0" x2="1003.1" y2="1211.0" stroke="#000" stroke-width="3.9"/>
<line x1="997.6" y1="1133.3" x2="1003.1" y2="1133.3" stroke="#000" stroke-width="3.9"/>
<line x1="997.6" y1="1055.6" x2="1003.1" y2="1055.6" stroke="#000" stroke-width="3.9"/>
<line x1="997.6" y1="978.0" x2="1003.1" y2="978.0" stroke="#000" stroke-width="3.9"/>
<line x1="997.6" y1="900.3" x2="1003.1" y2="900.3" stroke="#000" stroke-width="3.9"/>
<line x1="997.6" y1="822.6" x2="1003.1" y2="822.6" stroke="#000" stroke-width="3.9"/>
<text x="982.6" y="1334.9" font-family="'Liberation Sans', Arial, Helvetica, sans-serif" font-size="24" text-anchor="end">70</text>
<text x="982.6" y="1257.2" font-family="'Liberation Sans', Arial, Helvetica, sans-serif" font-size="24" text-anchor="end">75</text>
<text x="982.6" y="1179.5" font-family="'Liberation Sans', Arial, Helvetica, sans-serif" font-size="24" text-anchor="end">80</text>
<text x="982.6" y="1101.9" font-family="'Liberation Sans', Arial, Helvetica, sans-serif" font-size="24" text-anchor="end">85</text>
<text x="982.6" y="1024.2" font-family="'Liberation Sans', Arial, Helvetica, sans-serif" font-size="24" text-anchor="end">90</text>
<text x="982.6" y="946.5" font-family="'Liberation Sans', Arial, Helvetica, sans-serif" font-size="24" text-anchor="end">95</text>
<text x="982.6" y="868.9" font-family="'Liberation Sans', Arial, Helvetica, sans-serif" font-size="24" text-anchor="end">100</text>
<text x="982.6" y="791.2" font-family="'Liberation Sans', Arial, Helvetica, sans-serif" font-size="24" text-anchor="end">105</text>
<path d="M1006.8 1021.8 C1007.7 1021.4 1010.0 1020.5 1012.1 1019.5 C1014.2 1018.5 1015.8 1016.3 1019.6 1015.7 C1023.4 1015.1 1030.8 1013.7 1034.8 1015.7 C1038.8 1017.7 1041.1 1023.5 1043.9 1027.8 C1046.7 1032.1 1048.9 1035.2 1051.4 1041.5 C1053.9 1047.8 1056.5 1057.1 1059.0 1065.7 C1061.5 1074.3 1064.1 1082.3 1066.6 1092.9 C1069.1 1103.5 1071.6 1117.4 1074.1 1129.2 C1076.6 1141.0 1079.2 1152.4 1081.7 1164.0 C1084.2 1175.6 1087.0 1188.8 1089.3 1198.8 C1091.6 1208.8 1093.8 1216.3 1095.7 1224.2 C1097.6 1232.1 1098.8 1238.7 1100.6 1246.0 C1102.4 1253.3 1104.4 1261.3 1106.6 1267.8 C1108.8 1274.2 1111.7 1279.8 1113.9 1284.7 C1116.1 1289.6 1117.6 1294.1 1120.0 1296.9 C1122.4 1299.7 1125.6 1301.1 1128.4 1301.5 C1131.2 1301.9 1133.9 1301.5 1136.9 1299.5 C1139.9 1297.5 1143.6 1293.3 1146.6 1289.6 C1149.6 1285.9 1152.1 1282.3 1155.1 1277.5 C1158.1 1272.7 1161.9 1265.0 1164.7 1260.5 C1167.5 1256.0 1169.0 1255.0 1172.0 1250.8 C1175.0 1246.6 1180.1 1238.3 1182.9 1235.1 C1185.7 1231.9 1186.6 1232.5 1189.0 1231.5 C1191.4 1230.5 1194.4 1228.9 1197.4 1229.1 C1200.4 1229.3 1203.9 1230.5 1207.1 1232.7 C1210.3 1234.9 1213.9 1240.4 1216.8 1242.4 C1219.7 1244.5 1221.9 1245.4 1224.7 1245.0 C1227.5 1244.6 1230.1 1243.5 1233.8 1240.0 C1237.5 1236.5 1243.7 1229.2 1247.1 1224.2 C1250.5 1219.2 1251.8 1215.4 1254.3 1209.7 C1256.8 1204.0 1259.8 1195.6 1262.1 1190.0 C1264.4 1184.4 1265.9 1181.4 1268.2 1176.1 C1270.5 1170.8 1273.2 1163.7 1275.7 1157.9 C1278.2 1152.1 1280.5 1146.8 1283.3 1141.3 C1286.1 1135.8 1289.4 1129.4 1292.4 1124.6 C1295.4 1119.8 1298.5 1116.3 1301.5 1112.5 C1304.5 1108.7 1307.2 1104.8 1310.5 1101.9 C1313.8 1099.0 1317.8 1096.7 1321.1 1095.1 C1324.4 1093.5 1327.2 1093.1 1330.2 1092.1 C1333.2 1091.1 1336.8 1089.0 1339.3 1089.1 C1341.8 1089.2 1341.3 1092.2 1345.3 1092.8 C1349.3 1093.4 1359.2 1093.8 1363.5 1092.8 C1367.8 1091.8 1368.1 1090.1 1371.1 1086.8 C1374.1 1083.5 1378.7 1078.5 1381.7 1073.2 C1384.7 1067.9 1386.7 1061.6 1389.2 1055.0 C1391.7 1048.4 1394.5 1039.6 1396.8 1033.8 C1399.1 1028.0 1400.8 1024.1 1402.8 1020.2 C1404.8 1016.3 1406.9 1012.4 1408.9 1010.4 C1410.9 1008.4 1412.7 1007.0 1415.0 1008.1 C1417.3 1009.2 1420.2 1012.9 1422.5 1017.2 C1424.8 1021.5 1426.6 1027.0 1428.6 1033.8 C1430.6 1040.6 1432.6 1048.4 1434.6 1058.0 C1436.6 1067.6 1438.7 1079.1 1440.7 1091.3 C1442.7 1103.5 1444.7 1118.7 1446.8 1131.0 C1448.9 1143.3 1451.3 1154.2 1453.6 1165.0 C1455.9 1175.8 1458.1 1188.9 1460.4 1195.7 C1462.7 1202.5 1464.9 1205.4 1467.2 1205.7 C1469.5 1206.0 1471.7 1203.6 1474.0 1197.4 C1476.3 1191.2 1478.5 1177.3 1480.8 1168.5 C1483.1 1159.7 1485.9 1150.6 1487.6 1144.6 C1489.3 1138.6 1489.3 1135.8 1491.0 1132.7 C1492.7 1129.6 1495.8 1125.6 1497.8 1125.9 C1499.8 1126.2 1500.9 1129.9 1502.9 1134.4 C1504.9 1138.9 1506.9 1146.2 1509.7 1153.1 C1512.5 1160.0 1517.1 1173.7 1519.9 1176.0 C1522.7 1178.3 1524.1 1173.2 1526.7 1166.8 C1529.3 1160.4 1532.7 1146.9 1535.3 1137.8 C1537.9 1128.7 1540.0 1118.0 1542.1 1112.3 C1544.2 1106.6 1545.7 1103.5 1548.0 1103.8 C1550.3 1104.1 1553.6 1108.6 1555.7 1114.0 C1557.8 1119.4 1558.8 1125.9 1560.8 1136.1 C1562.8 1146.3 1565.3 1163.1 1567.6 1175.3 C1569.9 1187.5 1572.0 1201.4 1574.4 1209.3 C1576.8 1217.2 1579.7 1221.6 1582.0 1222.7 C1584.3 1223.8 1585.6 1222.9 1588.0 1216.1 C1590.4 1209.3 1593.7 1194.0 1596.5 1182.1 C1599.3 1170.2 1602.5 1156.8 1605.0 1144.6 C1607.5 1132.4 1610.2 1117.4 1611.8 1108.9 C1613.4 1100.4 1613.0 1101.4 1614.8 1093.5 C1616.5 1085.6 1620.0 1070.5 1622.3 1061.7 C1624.6 1052.9 1625.9 1045.8 1628.4 1040.5 C1630.9 1035.2 1634.7 1030.4 1637.5 1029.9 C1640.3 1029.4 1642.5 1032.7 1645.0 1037.5 C1647.5 1042.3 1650.1 1050.1 1652.6 1058.7 C1655.1 1067.3 1658.4 1079.8 1660.2 1089.0 C1662.0 1098.2 1661.9 1103.6 1663.5 1114.0 C1665.1 1124.4 1667.2 1139.5 1669.6 1151.4 C1672.0 1163.3 1675.5 1176.4 1678.1 1185.5 C1680.6 1194.6 1682.9 1201.4 1684.9 1205.9 C1686.9 1210.4 1688.0 1212.5 1690.0 1212.5 C1692.0 1212.5 1694.6 1212.4 1696.9 1205.9 C1699.2 1199.4 1701.6 1187.5 1703.6 1173.6 C1705.6 1159.7 1707.1 1137.8 1708.8 1122.5 C1710.5 1107.2 1712.8 1088.8 1713.6 1082.0" fill="none" stroke="#ff0000" stroke-width="5.2" stroke-linejoin="round" stroke-linecap="round"/>
<text transform="translate(1138.4,1229.1) rotate(-90)" font-family="'Liberation Serif', 'Times New Roman', Times, serif" font-weight="bold" font-size="26">NH<tspan font-size="16.1" dy="4.7">2</tspan></text>
<polygon points="1126.1,1235.1 1133.1,1235.1 1133.1,1266.6 1136.3,1266.6 1129.6,1273.8 1122.8,1266.6 1126.1,1266.6" fill="#5b9bd5"/>
<text x="1130.2" y="1332.6" font-family="'Liberation Serif', 'Times New Roman', Times, serif" font-weight="bold" font-size="26" text-anchor="middle">3451</text>
<text transform="translate(1234.5,1175.4) rotate(-90)" font-family="'Liberation Serif', 'Times New Roman', Times, serif" font-weight="bold" font-size="26">CH<tspan font-size="16.1" dy="4.7">3</tspan></text>
<polygon points="1223.2,1182.2 1230.2,1182.2 1230.2,1213.5 1233.5,1213.5 1226.7,1220.7 1220.0,1213.5 1223.2,1213.5" fill="#5b9bd5"/>
<text transform="translate(1241.0,1312.0) rotate(-90)" font-family="'Liberation Serif', 'Times New Roman', Times, serif" font-weight="bold" font-size="26">2907</text>
<text transform="translate(1373.3,1018.7) rotate(-90)" font-family="'Liberation Serif', 'Times New Roman', Times, serif" font-weight="bold" font-size="26">C<tspan font-weight="normal">=</tspan>C</text>
<polygon points="1361.1,1027.8 1368.1,1027.8 1368.1,1060.7 1371.3,1060.7 1364.6,1067.9 1357.8,1060.7 1361.1,1060.7" fill="#5b9bd5"/>
<text transform="translate(1378.6,1154.9) rotate(-90)" font-family="'Liberation Serif', 'Times New Roman', Times, serif" font-weight="bold" font-size="26">2187</text>
<text transform="translate(1474.0,1115.5) rotate(-90)" font-family="'Liberation Serif', 'Times New Roman', Times, serif" font-weight="bold" font-size="26">C<tspan font-weight="normal">=</tspan>O</text>
<polygon points="1462.6,1122.4 1469.6,1122.4 1469.6,1154.5 1472.8,1154.5 1466.1,1161.7 1459.3,1154.5 1462.6,1154.5" fill="#5b9bd5"/>
<text transform="translate(1476.6,1267.1) rotate(-90)" font-family="'Liberation Serif', 'Times New Roman', Times, serif" font-weight="bold" font-size="26">1626</text>
<text transform="translate(1529.3,1092.7) rotate(-90)" font-family="'Liberation Serif', 'Times New Roman', Times, serif" font-weight="bold" font-size="26">C<tspan font-weight="normal">-</tspan>N</text>
<polygon points="1516.5,1099.6 1523.5,1099.6 1523.5,1130.6 1526.8,1130.6 1520.0,1137.8 1513.2,1130.6 1516.5,1130.6" fill="#5b9bd5"/>
<text transform="translate(1531.9,1237.3) rotate(-90)" font-family="'Liberation Serif', 'Times New Roman', Times, serif" font-weight="bold" font-size="26">1383</text>
<text transform="translate(1593.5,1145.5) rotate(-90)" font-family="'Liberation Serif', 'Times New Roman', Times, serif" font-weight="bold" font-size="26">C<tspan font-weight="normal">-</tspan>O<tspan font-weight="normal">-</tspan>C</text>
<polygon points="1579.9,1151.4 1586.9,1151.4 1586.9,1183.4 1590.2,1183.4 1583.4,1190.6 1576.7,1183.4 1579.9,1183.4" fill="#5b9bd5"/>
<text transform="translate(1594.0,1289.2) rotate(-90)" font-family="'Liberation Serif', 'Times New Roman', Times, serif" font-weight="bold" font-size="26">1149</text>
<text transform="translate(1697.0,1124.5) rotate(-90)" font-family="'Liberation Serif', 'Times New Roman', Times, serif" font-weight="bold" font-size="26">ZnO</text>
<polygon points="1685.3,1131.9 1692.3,1131.9 1692.3,1163.8 1695.5,1163.8 1688.8,1171.0 1682.0,1163.8 1685.3,1163.8" fill="#5b9bd5"/>
<text x="1677.7" y="1250.1" font-family="'Liberation Serif', 'Times New Roman', Times, serif" font-weight="bold" font-size="26" text-anchor="middle">524</text>
<text transform="translate(931.7,1074.6) rotate(-90)" font-family="'Liberation Sans', Arial, Helvetica, sans-serif" font-size="30.65" text-anchor="middle">Transmettance (%)</text>
<text x="1238.6" y="1455.1" font-family="'Liberation Sans', Arial, Helvetica, sans-serif" font-size="30">Wavelength (cm<tspan font-size="18.0" dy="-12.6">-1</tspan><tspan dy="12.6">)</tspan></text>
<text transform="translate(1338.0,1529.0) scale(1.035,1)" font-family="'Liberation Serif', 'Times New Roman', Times, serif" font-weight="bold" font-size="34.7" text-anchor="middle">(d)</text>
<rect x="133.9" y="1620.2" width="714.3" height="576.1" fill="none" stroke="#000" stroke-width="3.9"/>
<line x1="133.9" y1="2196.3" x2="133.9" y2="2207.0" stroke="#000" stroke-width="3.9"/>
<line x1="235.9" y1="2196.3" x2="235.9" y2="2207.0" stroke="#000" stroke-width="3.9"/>
<line x1="338.0" y1="2196.3" x2="338.0" y2="2207.0" stroke="#000" stroke-width="3.9"/>
<line x1="440.0" y1="2196.3" x2="440.0" y2="2207.0" stroke="#000" stroke-width="3.9"/>
<line x1="542.1" y1="2196.3" x2="542.1" y2="2207.0" stroke="#000" stroke-width="3.9"/>
<line x1="644.1" y1="2196.3" x2="644.1" y2="2207.0" stroke="#000" stroke-width="3.9"/>
<line x1="746.2" y1="2196.3" x2="746.2" y2="2207.0" stroke="#000" stroke-width="3.9"/>
<line x1="848.2" y1="2196.3" x2="848.2" y2="2207.0" stroke="#000" stroke-width="3.9"/>
<line x1="184.9" y1="2196.3" x2="184.9" y2="2201.8" stroke="#000" stroke-width="3.9"/>
<line x1="287.0" y1="2196.3" x2="287.0" y2="2201.8" stroke="#000" stroke-width="3.9"/>
<line x1="389.0" y1="2196.3" x2="389.0" y2="2201.8" stroke="#000" stroke-width="3.9"/>
<line x1="491.1" y1="2196.3" x2="491.1" y2="2201.8" stroke="#000" stroke-width="3.9"/>
<line x1="593.1" y1="2196.3" x2="593.1" y2="2201.8" stroke="#000" stroke-width="3.9"/>
<line x1="695.1" y1="2196.3" x2="695.1" y2="2201.8" stroke="#000" stroke-width="3.9"/>
<line x1="797.2" y1="2196.3" x2="797.2" y2="2201.8" stroke="#000" stroke-width="3.9"/>
<text x="133.9" y="2234.3" font-family="'Liberation Sans', Arial, Helvetica, sans-serif" font-size="24" text-anchor="middle">4000</text>
<text x="235.9" y="2234.3" font-family="'Liberation Sans', Arial, Helvetica, sans-serif" font-size="24" text-anchor="middle">3500</text>
<text x="338.0" y="2234.3" font-family="'Liberation Sans', Arial, Helvetica, sans-serif" font-size="24" text-anchor="middle">3000</text>
<text x="440.0" y="2234.3" font-family="'Liberation Sans', Arial, Helvetica, sans-serif" font-size="24" text-anchor="middle">2500</text>
<text x="542.1" y="2234.3" font-family="'Liberation Sans', Arial, Helvetica, sans-serif" font-size="24" text-anchor="middle">2000</text>
<text x="644.1" y="2234.3" font-family="'Liberation Sans', Arial, Helvetica, sans-serif" font-size="24" text-anchor="middle">1500</text>
<text x="746.2" y="2234.3" font-family="'Liberation Sans', Arial, Helvetica, sans-serif" font-size="24" text-anchor="middle">1000</text>
<text x="848.2" y="2234.3" font-family="'Liberation Sans', Arial, Helvetica, sans-serif" font-size="24" text-anchor="middle">500</text>
<line x1="123.2" y1="2196.3" x2="133.9" y2="2196.3" stroke="#000" stroke-width="3.9"/>
<line x1="123.2" y1="2114.0" x2="133.9" y2="2114.0" stroke="#000" stroke-width="3.9"/>
<line x1="123.2" y1="2031.7" x2="133.9" y2="2031.7" stroke="#000" stroke-width="3.9"/>
<line x1="123.2" y1="1949.4" x2="133.9" y2="1949.4" stroke="#000" stroke-width="3.9"/>
<line x1="123.2" y1="1867.1" x2="133.9" y2="1867.1" stroke="#000" stroke-width="3.9"/>
<line x1="123.2" y1="1784.8" x2="133.9" y2="1784.8" stroke="#000" stroke-width="3.9"/>
<line x1="123.2" y1="1702.5" x2="133.9" y2="1702.5" stroke="#000" stroke-width="3.9"/>
<line x1="123.2" y1="1620.2" x2="133.9" y2="1620.2" stroke="#000" stroke-width="3.9"/>
<line x1="128.4" y1="2155.2" x2="133.9" y2="2155.2" stroke="#000" stroke-width="3.9"/>
<line x1="128.4" y1="2072.9" x2="133.9" y2="2072.9" stroke="#000" stroke-width="3.9"/>
<line x1="128.4" y1="1990.6" x2="133.9" y2="1990.6" stroke="#000" stroke-width="3.9"/>
<line x1="128.4" y1="1908.2" x2="133.9" y2="1908.2" stroke="#000" stroke-width="3.9"/>
<line x1="128.4" y1="1826.0" x2="133.9" y2="1826.0" stroke="#000" stroke-width="3.9"/>
<line x1="128.4" y1="1743.7" x2="133.9" y2="1743.7" stroke="#000" stroke-width="3.9"/>
<line x1="128.4" y1="1661.4" x2="133.9" y2="1661.4" stroke="#000" stroke-width="3.9"/>
<text x="114.1" y="2203.5" font-family="'Liberation Sans', Arial, Helvetica, sans-serif" font-size="24" text-anchor="end">45</text>
<text x="114.1" y="2121.2" font-family="'Liberation Sans', Arial, Helvetica, sans-serif" font-size="24" text-anchor="end">50</text>
<text x="114.1" y="2038.9" font-family="'Liberation Sans', Arial, Helvetica, sans-serif" font-size="24" text-anchor="end">55</text>
<text x="114.1" y="1956.6" font-family="'Liberation Sans', Arial, Helvetica, sans-serif" font-size="24" text-anchor="end">60</text>
<text x="114.1" y="1874.3" font-family="'Liberation Sans', Arial, Helvetica, sans-serif" font-size="24" text-anchor="end">65</text>
<text x="114.1" y="1792.0" font-family="'Liberation Sans', Arial, Helvetica, sans-serif" font-size="24" text-anchor="end">70</text>
<text x="114.1" y="1709.7" font-family="'Liberation Sans', Arial, Helvetica, sans-serif" font-size="24" text-anchor="end">75</text>
<text x="114.1" y="1627.4" font-family="'Liberation Sans', Arial, Helvetica, sans-serif" font-size="24" text-anchor="end">80</text>
<path d="M135.3 1707.2 C137.4 1707.6 144.4 1708.4 148.1 1709.5 C151.8 1710.6 153.9 1712.1 157.2 1714.0 C160.5 1715.9 164.3 1718.5 167.8 1720.9 C171.3 1723.3 175.4 1725.4 178.4 1728.4 C181.4 1731.4 183.6 1734.2 186.0 1739.0 C188.4 1743.8 191.0 1750.9 192.8 1757.2 C194.6 1763.5 195.5 1769.6 196.6 1776.9 C197.7 1784.2 198.3 1793.0 199.6 1801.1 C200.8 1809.2 202.8 1816.5 204.1 1825.3 C205.4 1834.1 206.2 1844.2 207.2 1854.0 C208.2 1863.8 209.0 1873.6 210.2 1884.3 C211.4 1895.0 213.0 1909.1 214.2 1918.2 C215.4 1927.3 216.2 1932.2 217.2 1938.7 C218.2 1945.2 219.2 1951.9 220.3 1956.9 C221.4 1962.0 222.5 1966.0 223.9 1969.0 C225.3 1972.0 226.9 1973.8 228.7 1975.1 C230.5 1976.4 232.8 1976.8 234.8 1977.0 C236.8 1977.2 238.8 1977.2 240.8 1976.3 C242.8 1975.4 244.9 1974.0 246.9 1971.4 C248.9 1968.8 251.2 1964.7 253.0 1960.5 C254.8 1956.3 256.2 1951.5 257.8 1946.0 C259.4 1940.5 261.2 1933.5 262.6 1927.8 C264.0 1922.1 264.6 1917.1 266.2 1912.0 C267.8 1906.9 270.3 1902.4 272.3 1897.0 C274.3 1891.6 276.3 1887.0 278.3 1879.8 C280.3 1872.6 282.3 1864.6 284.3 1854.0 C286.3 1843.4 288.4 1827.5 290.4 1816.2 C292.4 1804.9 294.6 1794.5 296.4 1785.9 C298.2 1777.3 299.5 1770.2 301.0 1764.7 C302.5 1759.2 303.2 1758.4 305.5 1752.6 C307.8 1746.8 311.6 1733.8 314.6 1729.9 C317.6 1726.0 321.4 1726.2 323.7 1729.2 C326.0 1732.2 326.9 1738.6 328.2 1748.1 C329.4 1757.5 330.4 1772.0 331.2 1785.9 C332.0 1799.8 332.0 1816.2 332.8 1831.3 C333.6 1846.4 334.6 1863.6 335.8 1876.7 C337.1 1889.8 338.8 1902.0 340.3 1910.0 C341.8 1918.0 343.2 1924.5 345.0 1924.5 C346.8 1924.5 349.1 1918.0 350.9 1910.0 C352.6 1902.0 354.0 1889.8 355.5 1876.7 C357.0 1863.6 358.8 1845.5 360.0 1831.3 C361.2 1817.1 362.0 1808.0 363.0 1791.3 C364.0 1774.5 365.0 1747.9 366.0 1730.8 C367.0 1713.7 368.1 1697.7 369.1 1688.4 C370.1 1679.1 370.3 1679.6 372.1 1674.8 C373.9 1670.0 376.7 1662.5 379.7 1659.7 C382.7 1656.9 388.0 1659.0 390.3 1658.2 C392.6 1657.4 390.4 1656.1 393.3 1655.1 C396.2 1654.1 402.4 1652.1 407.7 1652.1 C413.0 1652.1 421.5 1654.0 425.1 1655.1 C428.8 1656.2 427.3 1658.1 429.6 1658.9 C431.9 1659.7 435.2 1657.3 438.7 1659.7 C442.2 1662.1 446.8 1669.8 450.8 1673.3 C454.8 1676.8 458.9 1679.5 462.9 1680.9 C466.9 1682.3 471.2 1679.8 475.0 1681.6 C478.8 1683.4 482.8 1688.3 485.6 1691.5 C488.4 1694.7 489.2 1697.5 491.7 1700.5 C494.2 1703.5 496.7 1707.9 500.7 1709.6 C504.7 1711.2 510.8 1708.4 515.9 1710.4 C520.9 1712.4 527.2 1718.1 531.0 1721.7 C534.8 1725.3 535.8 1727.0 538.6 1732.3 C541.4 1737.6 545.2 1747.2 547.7 1753.5 C550.2 1759.8 551.7 1763.8 553.7 1770.1 C555.7 1776.4 558.0 1784.0 559.8 1791.3 C561.6 1798.6 562.8 1803.9 564.3 1814.0 C565.8 1824.1 567.7 1840.7 568.8 1851.9 C569.9 1863.1 569.6 1869.3 570.9 1881.0 C572.2 1892.7 574.8 1908.3 576.4 1922.0 C578.0 1935.7 579.4 1949.4 580.5 1963.1 C581.6 1976.8 582.1 1990.4 583.2 2004.1 C584.4 2017.8 586.5 2033.7 587.4 2045.1 C588.3 2056.5 588.0 2070.0 588.7 2072.5 C589.4 2075.0 590.8 2057.9 591.5 2060.2 C592.2 2062.5 591.7 2078.7 592.8 2086.2 C593.9 2093.7 596.9 2102.7 598.3 2105.0 C599.7 2107.3 599.9 2107.5 601.0 2099.8 C602.1 2092.1 604.0 2074.8 605.1 2058.8 C606.2 2042.9 607.1 2022.4 607.9 2004.1 C608.7 1985.8 609.2 1968.0 609.7 1949.0 C610.2 1930.0 610.4 1909.7 610.8 1890.0 C611.2 1870.3 611.6 1849.7 612.3 1831.1 C613.0 1812.5 614.1 1794.4 615.0 1778.2 C615.9 1762.0 616.7 1745.9 617.6 1734.1 C618.5 1722.3 619.4 1713.3 620.3 1707.6 C621.2 1701.9 621.9 1700.0 622.9 1700.0 C623.9 1700.0 625.2 1700.4 626.0 1707.6 C626.8 1714.8 627.3 1731.1 627.8 1742.9 C628.3 1754.7 628.7 1766.4 629.1 1778.2 C629.5 1790.0 630.0 1801.5 630.4 1813.5 C630.8 1825.5 631.2 1835.9 631.5 1850.0 C631.8 1864.1 631.9 1898.7 632.3 1898.0 C632.7 1897.3 633.3 1849.0 633.8 1846.0 C634.3 1843.0 634.8 1865.0 635.5 1880.0 C636.2 1895.0 637.1 1917.3 638.0 1935.7 C638.9 1954.1 639.8 1974.4 640.7 1990.4 C641.6 2006.4 642.7 2022.1 643.4 2031.5 C644.1 2040.9 644.2 2049.3 644.8 2047.0 C645.4 2044.7 646.3 2031.8 646.8 2017.8 C647.3 2003.8 647.4 1984.4 647.6 1963.1 C647.8 1941.8 647.6 1913.5 647.8 1890.0 C648.0 1866.5 648.5 1837.3 648.9 1822.3 C649.3 1807.3 649.6 1804.0 650.3 1800.2 C651.0 1796.4 652.2 1797.8 652.9 1799.3 C653.6 1800.8 654.3 1798.5 654.7 1809.0 C655.1 1819.5 655.0 1860.2 655.5 1862.0 C656.0 1863.8 656.6 1834.5 657.5 1820.0 C658.4 1805.5 659.8 1774.3 660.8 1774.7 C661.8 1775.1 662.8 1807.0 663.5 1822.3 C664.2 1837.6 664.7 1855.1 665.3 1866.4 C665.9 1877.7 666.3 1878.6 667.0 1890.0 C667.7 1901.4 668.5 1913.7 669.4 1935.0 C670.2 1956.3 671.4 1997.0 672.1 2017.8 C672.8 2038.6 672.8 2060.0 673.5 2060.0 C674.2 2060.0 675.1 2036.2 676.2 2017.8 C677.3 1999.4 678.9 1970.7 680.3 1949.4 C681.7 1928.1 683.4 1905.3 684.7 1890.0 C686.0 1874.7 686.7 1868.8 688.2 1857.5 C689.7 1846.2 692.0 1835.5 693.5 1822.3 C695.0 1809.1 696.0 1788.6 697.0 1778.2 C698.0 1767.8 698.5 1763.9 699.6 1760.0 C700.7 1756.1 701.8 1754.1 703.5 1754.8 C705.2 1755.5 708.1 1760.5 709.9 1764.0 C711.7 1767.5 712.7 1777.8 714.1 1776.0 C715.5 1774.2 716.9 1758.5 718.3 1753.4 C719.7 1748.3 721.3 1741.8 722.6 1745.6 C723.9 1749.3 724.9 1773.9 726.1 1775.9 C727.3 1777.9 728.3 1768.9 729.6 1757.6 C730.9 1746.3 732.5 1720.4 733.9 1708.2 C735.3 1696.0 736.7 1682.1 738.1 1684.2 C739.5 1686.3 740.9 1719.7 742.3 1720.9 C743.7 1722.1 745.3 1692.0 746.6 1691.3 C747.9 1690.6 748.8 1715.5 750.1 1716.7 C751.4 1717.9 753.0 1693.8 754.3 1698.3 C755.6 1702.8 756.7 1727.0 757.8 1743.5 C758.9 1760.0 759.6 1798.3 760.7 1797.1 C761.8 1795.9 763.0 1750.3 764.2 1736.4 C765.4 1722.5 766.2 1715.5 767.7 1713.9 C769.2 1712.3 771.8 1718.1 773.4 1726.6 C775.0 1735.1 776.3 1745.9 777.6 1764.7 C778.9 1783.5 779.6 1831.7 781.1 1839.4 C782.6 1847.2 785.3 1811.9 786.8 1811.2 C788.3 1810.5 789.0 1824.2 790.3 1835.2 C791.6 1846.2 793.1 1862.5 794.5 1877.5 C795.9 1892.5 796.8 1924.1 798.8 1925.5 C800.8 1926.9 803.9 1885.3 806.5 1886.0 C809.1 1886.7 812.1 1929.5 814.3 1929.7 C816.5 1929.9 817.8 1895.2 819.9 1887.4 C822.0 1879.7 824.9 1884.1 827.0 1883.2 C829.1 1882.3 830.7 1885.1 832.6 1881.8 C834.5 1878.5 836.0 1871.6 838.3 1863.4 C840.6 1855.2 845.0 1837.6 846.3 1832.4" fill="none" stroke="#48005a" stroke-width="5.0" stroke-linejoin="round" stroke-linecap="round"/>
<text transform="translate(242.7,1906.2) rotate(-90)" font-family="'Liberation Serif', 'Times New Roman', Times, serif" font-weight="bold" font-size="26">NH<tspan font-size="16.1" dy="4.7">2</tspan></text>
<polygon points="230.9,1909.7 237.9,1909.7 237.9,1941.2 241.2,1941.2 234.4,1948.4 227.7,1941.2 230.9,1941.2" fill="#5b9bd5"/>
<text transform="translate(243.3,2038.0) rotate(-90)" font-family="'Liberation Serif', 'Times New Roman', Times, serif" font-weight="bold" font-size="26">3562</text>
<text transform="translate(354.0,1703.5) rotate(-90)" font-family="'Liberation Serif', 'Times New Roman', Times, serif" font-weight="bold" font-size="26">CH<tspan font-size="16.1" dy="4.7">3</tspan></text>
<polygon points="342.6,1711.0 349.6,1711.0 349.6,1742.4 352.9,1742.4 346.1,1749.6 339.4,1742.4 342.6,1742.4" fill="#5b9bd5"/>
<text transform="translate(354.6,1990.2) rotate(-90)" font-family="'Liberation Serif', 'Times New Roman', Times, serif" font-weight="bold" font-size="26">2984</text>
<text transform="translate(596.1,1750.5) rotate(-90)" font-family="'Liberation Serif', 'Times New Roman', Times, serif" font-weight="bold" font-size="26">C<tspan font-weight="normal">=</tspan>O</text>
<polygon points="583.7,1757.2 590.7,1757.2 590.7,1788.1 594.0,1788.1 587.2,1795.3 580.5,1788.1 583.7,1788.1" fill="#5b9bd5"/>
<text transform="translate(607.5,2171.7) rotate(-90)" font-family="'Liberation Serif', 'Times New Roman', Times, serif" font-weight="bold" font-size="26">1734</text>
<text transform="translate(650.4,1750.4) rotate(-90)" font-family="'Liberation Serif', 'Times New Roman', Times, serif" font-weight="bold" font-size="26">C<tspan font-weight="normal">-</tspan>N</text>
<polygon points="636.6,1757.0 643.6,1757.0 643.6,1788.2 646.9,1788.2 640.1,1795.4 633.4,1788.2 636.6,1788.2" fill="#5b9bd5"/>
<text transform="translate(650.3,2106.0) rotate(-90)" font-family="'Liberation Serif', 'Times New Roman', Times, serif" font-weight="bold" font-size="26">1521</text>
<text transform="translate(692.0,1762.0) rotate(-90)" font-family="'Liberation Serif', 'Times New Roman', Times, serif" font-weight="bold" font-size="26">C<tspan font-weight="normal">-</tspan>N</text>
<polygon points="678.5,1768.9 685.5,1768.9 685.5,1800.3 688.8,1800.3 682.0,1807.5 675.2,1800.3 678.5,1800.3" fill="#5b9bd5"/>
<text transform="translate(683.1,2122.4) rotate(-90)" font-family="'Liberation Serif', 'Times New Roman', Times, serif" font-weight="bold" font-size="26">1364</text>
<text transform="translate(807.2,1763.2) rotate(-90)" font-family="'Liberation Serif', 'Times New Roman', Times, serif" font-weight="bold" font-size="26">CH<tspan font-size="16.1" dy="4.7">2</tspan></text>
<polygon points="796.4,1768.9 803.4,1768.9 803.4,1799.8 806.6,1799.8 799.9,1807.0 793.1,1799.8 796.4,1799.8" fill="#5b9bd5"/>
<text transform="translate(827.0,1764.7) rotate(-90)" font-family="'Liberation Serif', 'Times New Roman', Times, serif" font-weight="bold" font-size="26">CH<tspan font-size="16.1" dy="4.7">3</tspan></text>
<polygon points="815.7,1771.0 822.7,1771.0 822.7,1801.9 826.0,1801.9 819.2,1809.1 812.5,1801.9 815.7,1801.9" fill="#5b9bd5"/>
<text transform="translate(804.4,1984.8) rotate(-90)" font-family="'Liberation Serif', 'Times New Roman', Times, serif" font-weight="bold" font-size="26">801</text>
<text transform="translate(825.6,1974.9) rotate(-90)" font-family="'Liberation Serif', 'Times New Roman', Times, serif" font-weight="bold" font-size="26">738</text>
<text transform="translate(75.1,1908.5) rotate(-90)" font-family="'Liberation Sans', Arial, Helvetica, sans-serif" font-size="30.2" text-anchor="middle">Transmettance (%)</text>
<text x="370.9" y="2283.9" font-family="'Liberation Sans', Arial, Helvetica, sans-serif" font-size="30">Wavelength (cm<tspan font-size="18.0" dy="-12.6">-1</tspan><tspan dy="12.6">)</tspan></text>
<text transform="translate(467.1,2348.7) scale(1.070,1)" font-family="'Liberation Serif', 'Times New Roman', Times, serif" font-weight="bold" font-size="36.6" text-anchor="middle">(e)</text>
<rect x="987.9" y="1629.5" width="709.1" height="571.6" fill="none" stroke="#000" stroke-width="3.6"/>
<line x1="987.9" y1="2201.1" x2="987.9" y2="2211.8" stroke="#000" stroke-width="3.6"/>
<line x1="1089.2" y1="2201.1" x2="1089.2" y2="2211.8" stroke="#000" stroke-width="3.6"/>
<line x1="1190.5" y1="2201.1" x2="1190.5" y2="2211.8" stroke="#000" stroke-width="3.6"/>
<line x1="1291.8" y1="2201.1" x2="1291.8" y2="2211.8" stroke="#000" stroke-width="3.6"/>
<line x1="1393.1" y1="2201.1" x2="1393.1" y2="2211.8" stroke="#000" stroke-width="3.6"/>
<line x1="1494.4" y1="2201.1" x2="1494.4" y2="2211.8" stroke="#000" stroke-width="3.6"/>
<line x1="1595.7" y1="2201.1" x2="1595.7" y2="2211.8" stroke="#000" stroke-width="3.6"/>
<line x1="1697.0" y1="2201.1" x2="1697.0" y2="2211.8" stroke="#000" stroke-width="3.6"/>
<line x1="1038.5" y1="2201.1" x2="1038.5" y2="2206.6" stroke="#000" stroke-width="3.6"/>
<line x1="1139.8" y1="2201.1" x2="1139.8" y2="2206.6" stroke="#000" stroke-width="3.6"/>
<line x1="1241.2" y1="2201.1" x2="1241.2" y2="2206.6" stroke="#000" stroke-width="3.6"/>
<line x1="1342.5" y1="2201.1" x2="1342.5" y2="2206.6" stroke="#000" stroke-width="3.6"/>
<line x1="1443.8" y1="2201.1" x2="1443.8" y2="2206.6" stroke="#000" stroke-width="3.6"/>
<line x1="1545.0" y1="2201.1" x2="1545.0" y2="2206.6" stroke="#000" stroke-width="3.6"/>
<line x1="1646.3" y1="2201.1" x2="1646.3" y2="2206.6" stroke="#000" stroke-width="3.6"/>
<text x="987.9" y="2239.3" font-family="'Liberation Sans', Arial, Helvetica, sans-serif" font-size="24" text-anchor="middle">4000</text>
<text x="1089.2" y="2239.3" font-family="'Liberation Sans', Arial, Helvetica, sans-serif" font-size="24" text-anchor="middle">3500</text>
<text x="1190.5" y="2239.3" font-family="'Liberation Sans', Arial, Helvetica, sans-serif" font-size="24" text-anchor="middle">3000</text>
<text x="1291.8" y="2239.3" font-family="'Liberation Sans', Arial, Helvetica, sans-serif" font-size="24" text-anchor="middle">2500</text>
<text x="1393.1" y="2239.3" font-family="'Liberation Sans', Arial, Helvetica, sans-serif" font-size="24" text-anchor="middle">2000</text>
<text x="1494.4" y="2239.3" font-family="'Liberation Sans', Arial, Helvetica, sans-serif" font-size="24" text-anchor="middle">1500</text>
<text x="1595.7" y="2239.3" font-family="'Liberation Sans', Arial, Helvetica, sans-serif" font-size="24" text-anchor="middle">1000</text>
<text x="1697.0" y="2239.3" font-family="'Liberation Sans', Arial, Helvetica, sans-serif" font-size="24" text-anchor="middle">500</text>
<line x1="977.2" y1="2201.1" x2="987.9" y2="2201.1" stroke="#000" stroke-width="3.6"/>
<line x1="977.2" y1="2086.8" x2="987.9" y2="2086.8" stroke="#000" stroke-width="3.6"/>
<line x1="977.2" y1="1972.5" x2="987.9" y2="1972.5" stroke="#000" stroke-width="3.6"/>
<line x1="977.2" y1="1858.1" x2="987.9" y2="1858.1" stroke="#000" stroke-width="3.6"/>
<line x1="977.2" y1="1743.8" x2="987.9" y2="1743.8" stroke="#000" stroke-width="3.6"/>
<line x1="977.2" y1="1629.5" x2="987.9" y2="1629.5" stroke="#000" stroke-width="3.6"/>
<line x1="982.4" y1="2143.9" x2="987.9" y2="2143.9" stroke="#000" stroke-width="3.6"/>
<line x1="982.4" y1="2029.6" x2="987.9" y2="2029.6" stroke="#000" stroke-width="3.6"/>
<line x1="982.4" y1="1915.3" x2="987.9" y2="1915.3" stroke="#000" stroke-width="3.6"/>
<line x1="982.4" y1="1801.0" x2="987.9" y2="1801.0" stroke="#000" stroke-width="3.6"/>
<line x1="982.4" y1="1686.7" x2="987.9" y2="1686.7" stroke="#000" stroke-width="3.6"/>
<text x="968.0" y="2208.3" font-family="'Liberation Sans', Arial, Helvetica, sans-serif" font-size="24" text-anchor="end">75</text>
<text x="968.0" y="2094.0" font-family="'Liberation Sans', Arial, Helvetica, sans-serif" font-size="24" text-anchor="end">80</text>
<text x="968.0" y="1979.7" font-family="'Liberation Sans', Arial, Helvetica, sans-serif" font-size="24" text-anchor="end">85</text>
<text x="968.0" y="1865.3" font-family="'Liberation Sans', Arial, Helvetica, sans-serif" font-size="24" text-anchor="end">90</text>
<text x="968.0" y="1751.0" font-family="'Liberation Sans', Arial, Helvetica, sans-serif" font-size="24" text-anchor="end">95</text>
<text x="968.0" y="1636.7" font-family="'Liberation Sans', Arial, Helvetica, sans-serif" font-size="24" text-anchor="end">100</text>
<path d="M989.5 1838.2 C991.3 1838.7 996.6 1839.4 1000.1 1841.2 C1003.6 1843.0 1007.2 1845.3 1010.7 1848.8 C1014.2 1852.3 1018.0 1856.6 1021.3 1862.4 C1024.6 1868.2 1027.6 1875.5 1030.4 1883.6 C1033.2 1891.7 1035.5 1901.2 1038.0 1910.8 C1040.5 1920.4 1043.0 1931.0 1045.5 1941.1 C1048.0 1951.2 1050.6 1961.2 1053.1 1971.3 C1055.6 1981.4 1057.9 1992.0 1060.7 2001.6 C1063.5 2011.2 1066.7 2021.2 1069.7 2028.8 C1072.7 2036.4 1075.5 2042.0 1078.8 2047.0 C1082.1 2052.1 1086.1 2056.4 1089.4 2059.1 C1092.7 2061.8 1095.2 2062.7 1098.5 2062.9 C1101.8 2063.2 1105.3 2062.8 1109.1 2060.6 C1112.9 2058.4 1116.7 2054.8 1121.2 2050.0 C1125.7 2045.2 1131.2 2038.0 1136.3 2031.9 C1141.3 2025.9 1147.2 2018.5 1151.5 2013.7 C1155.8 2008.9 1158.6 2005.6 1162.1 2003.1 C1165.6 2000.6 1169.4 1998.8 1172.7 1998.6 C1176.0 1998.3 1178.4 2000.2 1181.7 2001.6 C1185.0 2003.0 1189.3 2007.7 1192.3 2006.9 C1195.3 2006.2 1197.6 2003.0 1199.9 1997.1 C1202.2 1991.2 1203.9 1980.6 1205.9 1971.3 C1207.9 1962.0 1210.0 1953.7 1212.0 1941.1 C1214.0 1928.5 1215.9 1908.9 1218.0 1895.7 C1220.1 1882.5 1222.3 1872.3 1224.5 1862.0 C1226.7 1851.7 1228.9 1842.3 1231.0 1834.0 C1233.1 1825.7 1234.8 1819.7 1237.1 1812.0 C1239.4 1804.3 1241.7 1795.1 1244.7 1787.8 C1247.7 1780.5 1252.0 1772.9 1255.3 1768.1 C1258.6 1763.3 1261.3 1761.0 1264.3 1759.0 C1267.3 1757.0 1270.1 1756.0 1273.4 1756.0 C1276.7 1756.0 1280.7 1757.0 1284.0 1759.0 C1287.3 1761.0 1289.8 1763.8 1293.1 1768.1 C1296.4 1772.4 1299.9 1778.9 1303.7 1784.7 C1307.5 1790.5 1311.8 1797.1 1315.8 1802.9 C1319.8 1808.7 1323.9 1814.5 1327.9 1819.5 C1331.9 1824.5 1335.7 1829.5 1340.0 1833.2 C1344.3 1836.9 1349.6 1840.8 1353.6 1841.5 C1357.6 1842.2 1360.7 1840.4 1364.2 1837.7 C1367.7 1835.0 1371.5 1829.9 1374.8 1825.6 C1378.1 1821.3 1381.4 1814.9 1383.9 1812.0 C1386.4 1809.1 1387.7 1808.2 1390.0 1808.2 C1392.3 1808.2 1394.7 1809.2 1397.5 1812.0 C1400.3 1814.8 1404.3 1820.8 1406.6 1825.0 C1408.8 1829.2 1409.3 1832.3 1411.0 1837.0 C1412.7 1841.7 1414.7 1846.4 1416.5 1853.0 C1418.3 1859.6 1420.3 1867.1 1422.0 1876.6 C1423.7 1886.0 1425.2 1899.1 1426.5 1909.7 C1427.8 1920.3 1428.9 1930.6 1430.0 1940.0 C1431.1 1949.4 1432.1 1955.5 1433.1 1966.0 C1434.1 1976.5 1435.0 1991.6 1436.2 2003.0 C1437.4 2014.4 1438.9 2023.9 1440.2 2034.4 C1441.5 2044.9 1442.9 2056.7 1444.1 2065.9 C1445.3 2075.1 1446.1 2083.5 1447.3 2089.5 C1448.5 2095.5 1449.9 2101.7 1451.2 2102.1 C1452.5 2102.5 1453.9 2097.3 1455.1 2091.9 C1456.3 2086.5 1457.4 2078.1 1458.3 2069.8 C1459.2 2061.5 1459.7 2052.1 1460.6 2042.3 C1461.5 2032.5 1462.8 2021.3 1463.8 2010.8 C1464.8 2000.3 1465.9 1991.1 1466.9 1979.3 C1468.0 1967.5 1469.1 1952.0 1470.1 1940.0 C1471.1 1928.0 1471.8 1915.0 1472.8 1907.4 C1473.8 1899.9 1475.0 1892.8 1476.2 1894.7 C1477.4 1896.6 1478.8 1906.0 1479.7 1918.8 C1480.6 1931.6 1480.9 1958.3 1481.5 1971.5 C1482.1 1984.7 1482.4 1993.5 1483.1 1998.2 C1483.8 2002.9 1485.0 1997.7 1485.8 1999.8 C1486.6 2001.9 1487.1 2005.0 1487.8 2010.8 C1488.5 2016.6 1489.2 2027.8 1489.8 2034.4 C1490.4 2041.0 1490.6 2046.8 1491.3 2050.2 C1492.0 2053.6 1493.0 2053.5 1493.7 2054.9 C1494.4 2056.3 1494.7 2059.3 1495.3 2058.8 C1495.9 2058.3 1496.9 2057.1 1497.6 2051.7 C1498.2 2046.3 1498.7 2034.7 1499.2 2026.6 C1499.7 2018.5 1500.3 2012.2 1500.8 2003.0 C1501.3 1993.8 1501.8 1980.3 1502.3 1971.5 C1502.8 1962.7 1503.0 1950.1 1503.9 1950.2 C1504.8 1950.3 1506.9 1971.4 1507.9 1972.3 C1509.0 1973.2 1509.6 1960.8 1510.2 1955.7 C1510.8 1950.6 1511.1 1940.3 1511.8 1941.6 C1512.5 1942.9 1513.3 1953.4 1514.2 1963.6 C1515.1 1973.8 1516.3 1991.2 1517.3 2003.0 C1518.3 2014.8 1519.4 2025.2 1520.4 2034.4 C1521.5 2043.6 1522.8 2052.3 1523.6 2058.0 C1524.4 2063.7 1524.5 2068.3 1525.2 2068.3 C1525.9 2068.3 1526.7 2063.7 1527.5 2058.0 C1528.3 2052.3 1529.1 2042.9 1529.9 2034.4 C1530.7 2025.9 1531.4 2012.7 1532.2 2006.9 C1533.0 2001.1 1533.7 2000.7 1534.6 1999.8 C1535.5 1998.9 1536.9 2002.5 1537.8 2001.4 C1538.7 2000.4 1539.3 1998.5 1540.1 1993.5 C1540.9 1988.5 1541.7 1977.2 1542.5 1971.5 C1543.3 1965.8 1544.0 1961.3 1545.0 1959.0 C1546.0 1956.7 1547.3 1962.6 1548.5 1957.8 C1549.7 1953.0 1550.8 1941.9 1551.9 1930.3 C1553.1 1918.7 1553.9 1893.2 1555.4 1887.9 C1556.9 1882.6 1559.3 1895.3 1561.1 1898.2 C1562.9 1901.1 1564.8 1906.4 1566.3 1905.1 C1567.8 1903.8 1569.1 1893.8 1570.3 1890.2 C1571.5 1886.6 1572.3 1881.6 1573.7 1883.3 C1575.1 1885.0 1577.5 1903.3 1578.9 1900.5 C1580.3 1897.7 1581.1 1877.2 1582.3 1866.4 C1583.5 1855.6 1584.8 1844.6 1586.0 1835.6 C1587.2 1826.5 1588.5 1813.1 1589.8 1812.1 C1591.0 1811.1 1592.5 1824.2 1593.5 1829.4 C1594.5 1834.6 1595.0 1842.0 1595.9 1843.0 C1596.8 1844.0 1598.0 1832.7 1599.0 1835.6 C1600.0 1838.5 1601.0 1854.5 1602.1 1860.2 C1603.2 1866.0 1604.8 1864.9 1605.8 1870.1 C1606.8 1875.2 1607.5 1882.4 1608.3 1891.1 C1609.1 1899.8 1610.0 1913.2 1610.7 1922.0 C1611.4 1930.8 1611.5 1942.5 1612.6 1944.2 C1613.7 1945.9 1616.0 1930.5 1617.5 1931.9 C1619.0 1933.3 1620.4 1944.8 1621.9 1952.8 C1623.5 1960.8 1624.8 1973.4 1626.8 1980.0 C1628.8 1986.6 1631.3 1988.2 1634.2 1992.3 C1637.1 1996.4 1640.8 2001.0 1644.1 2004.7 C1647.4 2008.4 1650.5 2012.0 1654.0 2014.6 C1657.5 2017.1 1661.7 2020.0 1665.4 2020.0 C1669.1 2020.0 1672.8 2017.1 1676.2 2014.6 C1679.6 2012.0 1682.8 2008.5 1686.0 2004.7 C1689.2 2000.9 1693.7 1993.7 1695.2 1991.5" fill="none" stroke="#000000" stroke-width="4.2" stroke-linejoin="round" stroke-linecap="round"/>
<text transform="translate(1104.6,1982.7) rotate(-90)" font-family="'Liberation Serif', 'Times New Roman', Times, serif" font-weight="bold" font-size="26">NH<tspan font-size="16.1" dy="4.7">2</tspan></text>
<polygon points="1091.2,1986.5 1098.2,1986.5 1098.2,2017.9 1101.5,2017.9 1094.7,2025.1 1088.0,2017.9 1091.2,2017.9" fill="#5b9bd5"/>
<text transform="translate(1100.6,2126.9) rotate(-90)" font-family="'Liberation Serif', 'Times New Roman', Times, serif" font-weight="bold" font-size="26">3492</text>
<text transform="translate(1204.4,1925.9) rotate(-90)" font-family="'Liberation Serif', 'Times New Roman', Times, serif" font-weight="bold" font-size="26">CH<tspan font-size="16.1" dy="4.7">3</tspan></text>
<polygon points="1190.0,1935.8 1197.0,1935.8 1197.0,1967.2 1200.2,1967.2 1193.5,1974.4 1186.8,1967.2 1190.0,1967.2" fill="#5b9bd5"/>
<text transform="translate(1204.1,2063.3) rotate(-90)" font-family="'Liberation Serif', 'Times New Roman', Times, serif" font-weight="bold" font-size="26">2960</text>
<text transform="translate(1362.7,1774.9) rotate(-90)" font-family="'Liberation Serif', 'Times New Roman', Times, serif" font-weight="bold" font-size="26">C<tspan font-weight="normal">=</tspan>C</text>
<polygon points="1350.9,1781.7 1357.9,1781.7 1357.9,1813.1 1361.2,1813.1 1354.4,1820.3 1347.7,1813.1 1350.9,1813.1" fill="#5b9bd5"/>
<text transform="translate(1363.5,1906.6) rotate(-90)" font-family="'Liberation Serif', 'Times New Roman', Times, serif" font-weight="bold" font-size="26">2193</text>
<text transform="translate(1457.3,1894.5) rotate(-90)" font-family="'Liberation Serif', 'Times New Roman', Times, serif" font-weight="bold" font-size="26">C<tspan font-weight="normal">=</tspan>O</text>
<polygon points="1446.5,1900.8 1453.5,1900.8 1453.5,1931.8 1456.8,1931.8 1450.0,1939.0 1443.2,1931.8 1446.5,1931.8" fill="#5b9bd5"/>
<text transform="translate(1460.3,2162.6) rotate(-90)" font-family="'Liberation Serif', 'Times New Roman', Times, serif" font-weight="bold" font-size="26">1744</text>
<text transform="translate(1502.6,1880.4) rotate(-90)" font-family="'Liberation Serif', 'Times New Roman', Times, serif" font-weight="bold" font-size="26">C<tspan font-weight="normal">-</tspan>N</text>
<polygon points="1490.8,1885.6 1497.8,1885.6 1497.8,1916.8 1501.0,1916.8 1494.3,1924.0 1487.5,1916.8 1490.8,1916.8" fill="#5b9bd5"/>
<text transform="translate(1503.1,2114.7) rotate(-90)" font-family="'Liberation Serif', 'Times New Roman', Times, serif" font-weight="bold" font-size="26">1504</text>
<text transform="translate(1539.3,1888.4) rotate(-90)" font-family="'Liberation Serif', 'Times New Roman', Times, serif" font-weight="bold" font-size="26">C<tspan font-weight="normal">-</tspan>N</text>
<polygon points="1524.9,1894.7 1531.9,1894.7 1531.9,1926.0 1535.2,1926.0 1528.4,1933.2 1521.7,1926.0 1524.9,1926.0" fill="#5b9bd5"/>
<text transform="translate(1533.1,2124.1) rotate(-90)" font-family="'Liberation Serif', 'Times New Roman', Times, serif" font-weight="bold" font-size="26">1327</text>
<text transform="translate(1671.9,1938.0) rotate(-90)" font-family="'Liberation Serif', 'Times New Roman', Times, serif" font-weight="bold" font-size="26">ZnO</text>
<polygon points="1660.9,1943.0 1667.9,1943.0 1667.9,1973.4 1671.2,1973.4 1664.4,1980.6 1657.7,1973.4 1660.9,1973.4" fill="#5b9bd5"/>
<text x="1665.7" y="2050.5" font-family="'Liberation Serif', 'Times New Roman', Times, serif" font-weight="bold" font-size="26" text-anchor="middle">529</text>
<text transform="translate(915.7,1915.2) rotate(-90)" font-family="'Liberation Sans', Arial, Helvetica, sans-serif" font-size="29.9" text-anchor="middle">Transmettance (%)</text>
<text x="1222.7" y="2288.7" font-family="'Liberation Sans', Arial, Helvetica, sans-serif" font-size="29.8">Wavelength (cm<tspan font-size="17.9" dy="-12.5">-1</tspan><tspan dy="12.5">)</tspan></text>
<text transform="translate(1336.5,2351.5) scale(1.110,1)" font-family="'Liberation Serif', 'Times New Roman', Times, serif" font-weight="bold" font-size="35.8" text-anchor="middle">(f)</text>
</svg></body></html>
